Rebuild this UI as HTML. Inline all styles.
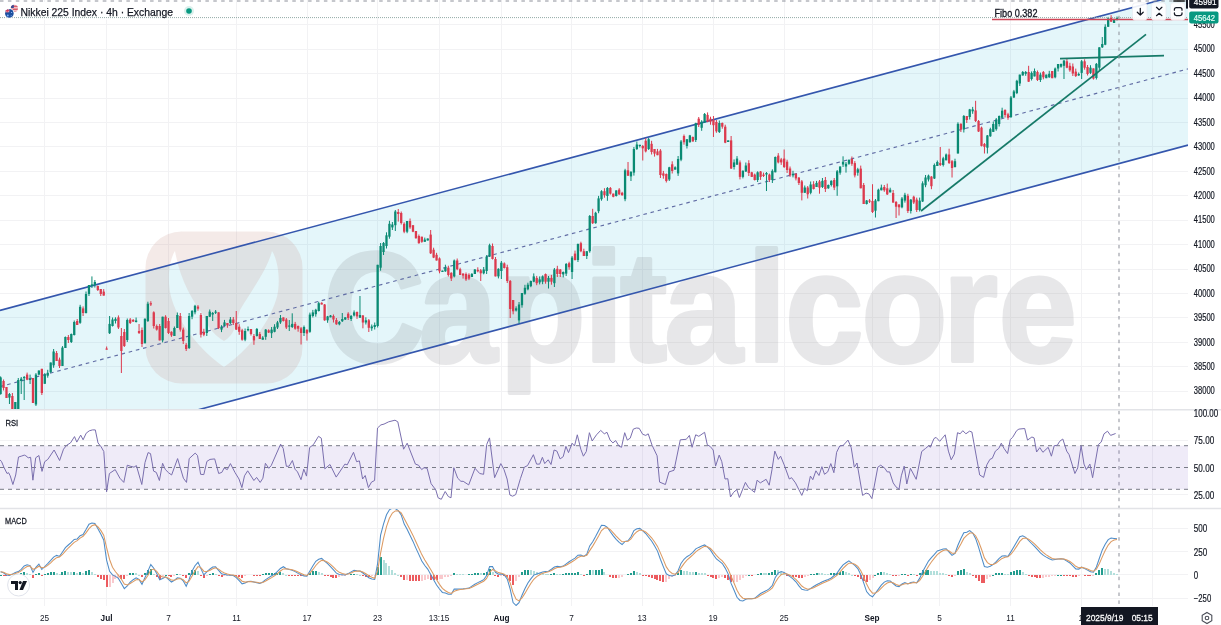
<!DOCTYPE html>
<html><head><meta charset="utf-8"><title>Nikkei 225 Index chart</title><style>html,body{margin:0;padding:0;background:#fff;width:1221px;height:625px;overflow:hidden}svg{display:block}</style></head><body>
<svg width="1221" height="625" viewBox="0 0 1221 625" font-family="Liberation Sans, Arial, sans-serif">
<defs><clipPath id="cm"><rect x="0" y="0" width="1188" height="409"/></clipPath><clipPath id="cr"><rect x="0" y="410" width="1188" height="98"/></clipPath><clipPath id="cd"><rect x="0" y="509" width="1188" height="97"/></clipPath></defs>
<rect width="1221" height="625" fill="#ffffff"/>
<g stroke="#f2f2f4" stroke-width="1" shape-rendering="crispEdges"><line x1="44.5" y1="0" x2="44.5" y2="606" /><line x1="106.5" y1="0" x2="106.5" y2="606" /><line x1="168.5" y1="0" x2="168.5" y2="606" /><line x1="236.5" y1="0" x2="236.5" y2="606" /><line x1="307" y1="0" x2="307" y2="606" /><line x1="377.5" y1="0" x2="377.5" y2="606" /><line x1="439" y1="0" x2="439" y2="606" /><line x1="501.5" y1="0" x2="501.5" y2="606" /><line x1="571.5" y1="0" x2="571.5" y2="606" /><line x1="642" y1="0" x2="642" y2="606" /><line x1="713" y1="0" x2="713" y2="606" /><line x1="784" y1="0" x2="784" y2="606" /><line x1="872" y1="0" x2="872" y2="606" /><line x1="939.5" y1="0" x2="939.5" y2="606" /><line x1="1010.5" y1="0" x2="1010.5" y2="606" /><line x1="1081" y1="0" x2="1081" y2="606" /><line x1="1152" y1="0" x2="1152" y2="606" /><line x1="0" y1="24.8" x2="1188" y2="24.8"/><line x1="0" y1="49.2" x2="1188" y2="49.2"/><line x1="0" y1="73.6" x2="1188" y2="73.6"/><line x1="0" y1="98.1" x2="1188" y2="98.1"/><line x1="0" y1="122.5" x2="1188" y2="122.5"/><line x1="0" y1="146.9" x2="1188" y2="146.9"/><line x1="0" y1="171.4" x2="1188" y2="171.4"/><line x1="0" y1="195.8" x2="1188" y2="195.8"/><line x1="0" y1="220.2" x2="1188" y2="220.2"/><line x1="0" y1="244.6" x2="1188" y2="244.6"/><line x1="0" y1="269.1" x2="1188" y2="269.1"/><line x1="0" y1="293.5" x2="1188" y2="293.5"/><line x1="0" y1="317.9" x2="1188" y2="317.9"/><line x1="0" y1="342.4" x2="1188" y2="342.4"/><line x1="0" y1="366.8" x2="1188" y2="366.8"/><line x1="0" y1="391.2" x2="1188" y2="391.2"/><line x1="0" y1="440.2" x2="1188" y2="440.2"/><line x1="0" y1="494.8" x2="1188" y2="494.8"/><line x1="0" y1="528.2" x2="1188" y2="528.2"/><line x1="0" y1="551.5" x2="1188" y2="551.5"/><line x1="0" y1="574.8" x2="1188" y2="574.8"/><line x1="0" y1="598.1" x2="1188" y2="598.1"/></g>
<g clip-path="url(#cm)">
<polygon points="0,310.4 1188,-7.3 1188,145.1 0,462.8" fill="#3ebcde" fill-opacity="0.14"/>
</g>
<path fill-rule="evenodd" fill="#c8948a" fill-opacity="0.2" d="M181.5,231.5 H266.5 A36,36 0 0 1 302.5,267.5 V347.5 A36,36 0 0 1 266.5,383.5 H181.5 A36,36 0 0 1 145.5,347.5 V267.5 A36,36 0 0 1 181.5,231.5 Z M175,251 C168,262 167,285 172,300 C180,325 200,350 224,367 C248,350 268,325 276,300 C281,285 279,262 272,251 C268,268 252,290 240,310 C236,322 236,334 224,341 C212,334 206,324 204,316 C192,300 180,280 175,251 Z"/>
<g opacity="0.17"><text transform="scale(0.9,1)" x="359.1 465.5 555.2 649.1 689.3 738.3 830.3 872.5 957.2 1047.7 1109.6" y="361" font-size="156" font-weight="bold" fill="#78787f" stroke="#78787f" stroke-width="4" stroke-linejoin="round">Capitalcore</text></g>
<g clip-path="url(#cm)">
<line x1="0" y1="310.4" x2="1188" y2="-7.3" stroke="#3456ad" stroke-width="1.6"/>
<line x1="0" y1="462.8" x2="1188" y2="145.1" stroke="#3456ad" stroke-width="1.6"/>
<line x1="0" y1="386.6" x2="1188" y2="68.9" stroke="#606ca4" stroke-width="1.15" stroke-dasharray="3.6 3.8"/>
</g>
<g clip-path="url(#cm)"><rect x="0.10" y="376.4" width="1" height="18.2" fill="#0a8a73"/>
<rect x="-0.55" y="377.4" width="2.3" height="16.7" fill="#0a8a73"/>
<rect x="3.05" y="379.5" width="1" height="11.0" fill="#dc3a4e"/>
<rect x="2.40" y="381.0" width="2.3" height="7.0" fill="#dc3a4e"/>
<rect x="5.99" y="387.0" width="1" height="11.0" fill="#dc3a4e"/>
<rect x="5.34" y="387.0" width="2.3" height="11.0" fill="#dc3a4e"/>
<rect x="8.94" y="393.0" width="1" height="11.0" fill="#0a8a73"/>
<rect x="8.29" y="394.0" width="2.3" height="3.6" fill="#0a8a73"/>
<rect x="11.88" y="393.0" width="1" height="18.0" fill="#dc3a4e"/>
<rect x="11.23" y="396.0" width="2.3" height="13.0" fill="#dc3a4e"/>
<rect x="14.83" y="402.0" width="1" height="8.0" fill="#0a8a73"/>
<rect x="14.18" y="402.0" width="2.3" height="7.0" fill="#0a8a73"/>
<rect x="17.77" y="378.0" width="1" height="31.0" fill="#0a8a73"/>
<rect x="17.12" y="380.0" width="2.3" height="29.0" fill="#0a8a73"/>
<rect x="20.72" y="377.0" width="1" height="17.0" fill="#0a8a73"/>
<rect x="20.07" y="378.6" width="2.3" height="2.4" fill="#0a8a73"/>
<rect x="23.67" y="376.0" width="1" height="24.0" fill="#0a8a73"/>
<rect x="23.02" y="377.0" width="2.3" height="1.2" fill="#0a8a73"/>
<rect x="26.61" y="372.6" width="1" height="7.6" fill="#dc3a4e"/>
<rect x="25.96" y="374.6" width="2.3" height="5.1" fill="#dc3a4e"/>
<rect x="29.56" y="374.6" width="1" height="9.4" fill="#0a8a73"/>
<rect x="28.91" y="378.6" width="2.3" height="1.4" fill="#0a8a73"/>
<rect x="32.50" y="378.0" width="1" height="25.0" fill="#dc3a4e"/>
<rect x="31.85" y="378.0" width="2.3" height="25.0" fill="#dc3a4e"/>
<rect x="35.45" y="373.1" width="1" height="32.9" fill="#0a8a73"/>
<rect x="34.80" y="374.6" width="2.3" height="29.9" fill="#0a8a73"/>
<rect x="38.39" y="370.5" width="1" height="4.6" fill="#0a8a73"/>
<rect x="37.74" y="370.5" width="2.3" height="4.1" fill="#0a8a73"/>
<rect x="41.34" y="368.8" width="1" height="26.2" fill="#dc3a4e"/>
<rect x="40.69" y="368.8" width="2.3" height="24.2" fill="#dc3a4e"/>
<rect x="44.28" y="373.1" width="1" height="10.7" fill="#0a8a73"/>
<rect x="43.63" y="374.6" width="2.3" height="9.2" fill="#0a8a73"/>
<rect x="47.23" y="369.8" width="1" height="7.9" fill="#0a8a73"/>
<rect x="46.58" y="372.8" width="2.3" height="2.9" fill="#0a8a73"/>
<rect x="50.18" y="362.5" width="1" height="10.3" fill="#0a8a73"/>
<rect x="49.53" y="362.5" width="2.3" height="9.8" fill="#0a8a73"/>
<rect x="53.12" y="349.0" width="1" height="18.8" fill="#0a8a73"/>
<rect x="52.47" y="351.5" width="2.3" height="13.8" fill="#0a8a73"/>
<rect x="56.07" y="351.0" width="1" height="10.0" fill="#dc3a4e"/>
<rect x="55.42" y="353.0" width="2.3" height="8.0" fill="#dc3a4e"/>
<rect x="59.01" y="357.6" width="1" height="10.4" fill="#dc3a4e"/>
<rect x="58.36" y="359.6" width="2.3" height="6.4" fill="#dc3a4e"/>
<rect x="61.96" y="346.1" width="1" height="19.9" fill="#0a8a73"/>
<rect x="61.31" y="347.6" width="2.3" height="18.4" fill="#0a8a73"/>
<rect x="64.90" y="336.5" width="1" height="11.5" fill="#0a8a73"/>
<rect x="64.25" y="337.0" width="2.3" height="11.0" fill="#0a8a73"/>
<rect x="67.85" y="335.0" width="1" height="8.0" fill="#dc3a4e"/>
<rect x="67.20" y="337.0" width="2.3" height="3.0" fill="#dc3a4e"/>
<rect x="70.80" y="333.5" width="1" height="9.5" fill="#0a8a73"/>
<rect x="70.15" y="334.0" width="2.3" height="8.0" fill="#0a8a73"/>
<rect x="73.74" y="320.5" width="1" height="15.0" fill="#0a8a73"/>
<rect x="73.09" y="322.0" width="2.3" height="13.0" fill="#0a8a73"/>
<rect x="76.69" y="319.0" width="1" height="6.0" fill="#dc3a4e"/>
<rect x="76.04" y="321.0" width="2.3" height="4.0" fill="#dc3a4e"/>
<rect x="79.63" y="304.8" width="1" height="19.0" fill="#0a8a73"/>
<rect x="78.98" y="306.8" width="2.3" height="16.0" fill="#0a8a73"/>
<rect x="82.58" y="306.4" width="1" height="9.6" fill="#dc3a4e"/>
<rect x="81.93" y="308.4" width="2.3" height="4.6" fill="#dc3a4e"/>
<rect x="85.52" y="291.5" width="1" height="22.0" fill="#0a8a73"/>
<rect x="84.87" y="294.0" width="2.3" height="19.0" fill="#0a8a73"/>
<rect x="88.47" y="285.0" width="1" height="11.0" fill="#0a8a73"/>
<rect x="87.82" y="285.0" width="2.3" height="9.0" fill="#0a8a73"/>
<rect x="91.42" y="276.4" width="1" height="11.6" fill="#0a8a73"/>
<rect x="90.77" y="284.4" width="2.3" height="1.6" fill="#0a8a73"/>
<rect x="94.36" y="280.0" width="1" height="7.5" fill="#0a8a73"/>
<rect x="93.71" y="282.0" width="2.3" height="3.0" fill="#0a8a73"/>
<rect x="97.31" y="285.5" width="1" height="5.5" fill="#dc3a4e"/>
<rect x="96.66" y="286.0" width="2.3" height="4.0" fill="#dc3a4e"/>
<rect x="100.25" y="289.0" width="1" height="7.0" fill="#dc3a4e"/>
<rect x="99.60" y="289.0" width="2.3" height="5.0" fill="#dc3a4e"/>
<rect x="103.20" y="289.1" width="1" height="6.5" fill="#dc3a4e"/>
<rect x="102.55" y="291.6" width="2.3" height="4.0" fill="#dc3a4e"/>
<rect x="106.14" y="346.5" width="1" height="3.0" fill="#dc3a4e"/>
<rect x="105.49" y="348.5" width="2.3" height="1.2" fill="#dc3a4e"/>
<rect x="109.09" y="316.0" width="1" height="18.0" fill="#0a8a73"/>
<rect x="108.44" y="323.9" width="2.3" height="9.3" fill="#0a8a73"/>
<rect x="112.03" y="317.5" width="1" height="9.0" fill="#0a8a73"/>
<rect x="111.38" y="319.5" width="2.3" height="6.5" fill="#0a8a73"/>
<rect x="114.98" y="317.3" width="1" height="6.2" fill="#0a8a73"/>
<rect x="114.33" y="318.8" width="2.3" height="2.2" fill="#0a8a73"/>
<rect x="117.93" y="315.4" width="1" height="13.6" fill="#dc3a4e"/>
<rect x="117.28" y="317.4" width="2.3" height="10.1" fill="#dc3a4e"/>
<rect x="120.87" y="328.0" width="1" height="45.0" fill="#dc3a4e"/>
<rect x="120.22" y="336.0" width="2.3" height="15.0" fill="#dc3a4e"/>
<rect x="123.82" y="329.0" width="1" height="18.0" fill="#dc3a4e"/>
<rect x="123.17" y="332.0" width="2.3" height="14.0" fill="#dc3a4e"/>
<rect x="126.76" y="318.5" width="1" height="23.5" fill="#0a8a73"/>
<rect x="126.11" y="320.0" width="2.3" height="20.0" fill="#0a8a73"/>
<rect x="129.71" y="318.0" width="1" height="6.0" fill="#dc3a4e"/>
<rect x="129.06" y="319.5" width="2.3" height="3.5" fill="#dc3a4e"/>
<rect x="132.65" y="319.0" width="1" height="3.0" fill="#dc3a4e"/>
<rect x="132.00" y="320.0" width="2.3" height="1.5" fill="#dc3a4e"/>
<rect x="135.60" y="317.5" width="1" height="5.0" fill="#0a8a73"/>
<rect x="134.95" y="320.5" width="2.3" height="1.5" fill="#0a8a73"/>
<rect x="138.55" y="324.0" width="1" height="10.0" fill="#dc3a4e"/>
<rect x="137.90" y="331.0" width="2.3" height="2.0" fill="#dc3a4e"/>
<rect x="141.49" y="327.5" width="1" height="19.5" fill="#dc3a4e"/>
<rect x="140.84" y="330.0" width="2.3" height="14.0" fill="#dc3a4e"/>
<rect x="144.44" y="318.3" width="1" height="25.0" fill="#0a8a73"/>
<rect x="143.79" y="318.8" width="2.3" height="24.5" fill="#0a8a73"/>
<rect x="147.38" y="301.7" width="1" height="20.3" fill="#0a8a73"/>
<rect x="146.73" y="303.7" width="2.3" height="17.3" fill="#0a8a73"/>
<rect x="150.33" y="301.2" width="1" height="4.8" fill="#dc3a4e"/>
<rect x="149.68" y="303.2" width="2.3" height="1.3" fill="#dc3a4e"/>
<rect x="153.27" y="311.3" width="1" height="17.2" fill="#dc3a4e"/>
<rect x="152.62" y="312.3" width="2.3" height="13.7" fill="#dc3a4e"/>
<rect x="156.22" y="324.5" width="1" height="6.1" fill="#dc3a4e"/>
<rect x="155.57" y="326.0" width="2.3" height="3.6" fill="#dc3a4e"/>
<rect x="159.16" y="324.0" width="1" height="16.4" fill="#dc3a4e"/>
<rect x="158.51" y="326.0" width="2.3" height="14.4" fill="#dc3a4e"/>
<rect x="162.11" y="316.7" width="1" height="25.7" fill="#0a8a73"/>
<rect x="161.46" y="316.7" width="2.3" height="23.7" fill="#0a8a73"/>
<rect x="165.06" y="315.2" width="1" height="13.3" fill="#dc3a4e"/>
<rect x="164.41" y="316.7" width="2.3" height="11.3" fill="#dc3a4e"/>
<rect x="168.00" y="318.0" width="1" height="16.0" fill="#dc3a4e"/>
<rect x="167.35" y="321.0" width="2.3" height="12.0" fill="#dc3a4e"/>
<rect x="170.95" y="331.3" width="1" height="5.6" fill="#dc3a4e"/>
<rect x="170.30" y="331.8" width="2.3" height="3.6" fill="#dc3a4e"/>
<rect x="173.89" y="326.5" width="1" height="9.5" fill="#0a8a73"/>
<rect x="173.24" y="328.0" width="2.3" height="8.0" fill="#0a8a73"/>
<rect x="176.84" y="312.5" width="1" height="15.5" fill="#0a8a73"/>
<rect x="176.19" y="315.0" width="2.3" height="13.0" fill="#0a8a73"/>
<rect x="179.78" y="313.0" width="1" height="18.6" fill="#dc3a4e"/>
<rect x="179.13" y="316.0" width="2.3" height="13.6" fill="#dc3a4e"/>
<rect x="182.73" y="327.6" width="1" height="16.4" fill="#dc3a4e"/>
<rect x="182.08" y="329.6" width="2.3" height="11.4" fill="#dc3a4e"/>
<rect x="185.68" y="343.0" width="1" height="8.0" fill="#dc3a4e"/>
<rect x="185.03" y="344.8" width="2.3" height="4.2" fill="#dc3a4e"/>
<rect x="188.62" y="313.0" width="1" height="36.0" fill="#0a8a73"/>
<rect x="187.97" y="316.0" width="2.3" height="32.0" fill="#0a8a73"/>
<rect x="191.57" y="310.0" width="1" height="9.2" fill="#0a8a73"/>
<rect x="190.92" y="311.0" width="2.3" height="5.7" fill="#0a8a73"/>
<rect x="194.51" y="304.8" width="1" height="9.5" fill="#0a8a73"/>
<rect x="193.86" y="305.8" width="2.3" height="6.5" fill="#0a8a73"/>
<rect x="197.46" y="305.1" width="1" height="5.6" fill="#dc3a4e"/>
<rect x="196.81" y="306.6" width="2.3" height="2.1" fill="#dc3a4e"/>
<rect x="200.40" y="313.0" width="1" height="24.5" fill="#dc3a4e"/>
<rect x="199.75" y="315.0" width="2.3" height="19.7" fill="#dc3a4e"/>
<rect x="203.35" y="328.8" width="1" height="7.4" fill="#dc3a4e"/>
<rect x="202.70" y="331.8" width="2.3" height="2.9" fill="#dc3a4e"/>
<rect x="206.30" y="316.0" width="1" height="20.0" fill="#0a8a73"/>
<rect x="205.65" y="316.0" width="2.3" height="17.0" fill="#0a8a73"/>
<rect x="209.24" y="309.5" width="1" height="7.5" fill="#0a8a73"/>
<rect x="208.59" y="311.6" width="2.3" height="5.1" fill="#0a8a73"/>
<rect x="212.19" y="312.0" width="1" height="9.0" fill="#0a8a73"/>
<rect x="211.54" y="313.0" width="2.3" height="1.5" fill="#0a8a73"/>
<rect x="215.13" y="310.0" width="1" height="4.0" fill="#0a8a73"/>
<rect x="214.48" y="311.6" width="2.3" height="1.2" fill="#0a8a73"/>
<rect x="218.08" y="312.3" width="1" height="16.7" fill="#dc3a4e"/>
<rect x="217.43" y="312.3" width="2.3" height="15.7" fill="#dc3a4e"/>
<rect x="221.02" y="325.2" width="1" height="6.9" fill="#0a8a73"/>
<rect x="220.37" y="326.7" width="2.3" height="2.9" fill="#0a8a73"/>
<rect x="223.97" y="319.9" width="1" height="6.1" fill="#0a8a73"/>
<rect x="223.32" y="322.4" width="2.3" height="3.6" fill="#0a8a73"/>
<rect x="226.91" y="323.0" width="1" height="4.8" fill="#dc3a4e"/>
<rect x="226.26" y="323.0" width="2.3" height="2.3" fill="#dc3a4e"/>
<rect x="229.86" y="317.0" width="1" height="7.0" fill="#0a8a73"/>
<rect x="229.21" y="319.5" width="2.3" height="3.5" fill="#0a8a73"/>
<rect x="232.81" y="317.0" width="1" height="8.0" fill="#dc3a4e"/>
<rect x="232.16" y="319.5" width="2.3" height="3.5" fill="#dc3a4e"/>
<rect x="235.75" y="311.0" width="1" height="19.0" fill="#dc3a4e"/>
<rect x="235.10" y="323.0" width="2.3" height="6.6" fill="#dc3a4e"/>
<rect x="238.70" y="324.2" width="1" height="10.6" fill="#dc3a4e"/>
<rect x="238.05" y="326.7" width="2.3" height="5.1" fill="#dc3a4e"/>
<rect x="241.64" y="328.8" width="1" height="11.9" fill="#dc3a4e"/>
<rect x="240.99" y="330.3" width="2.3" height="9.4" fill="#dc3a4e"/>
<rect x="244.59" y="328.5" width="1" height="12.7" fill="#0a8a73"/>
<rect x="243.94" y="331.0" width="2.3" height="8.7" fill="#0a8a73"/>
<rect x="247.53" y="326.5" width="1" height="4.8" fill="#0a8a73"/>
<rect x="246.88" y="329.0" width="2.3" height="1.3" fill="#0a8a73"/>
<rect x="250.48" y="329.0" width="1" height="6.5" fill="#dc3a4e"/>
<rect x="249.83" y="329.0" width="2.3" height="5.0" fill="#dc3a4e"/>
<rect x="253.43" y="334.0" width="1" height="10.8" fill="#dc3a4e"/>
<rect x="252.78" y="336.0" width="2.3" height="4.4" fill="#dc3a4e"/>
<rect x="256.37" y="328.0" width="1" height="8.5" fill="#0a8a73"/>
<rect x="255.72" y="329.0" width="2.3" height="7.0" fill="#0a8a73"/>
<rect x="259.32" y="332.0" width="1" height="7.0" fill="#dc3a4e"/>
<rect x="258.67" y="334.0" width="2.3" height="5.0" fill="#dc3a4e"/>
<rect x="262.26" y="336.1" width="1" height="3.6" fill="#0a8a73"/>
<rect x="261.61" y="337.6" width="2.3" height="2.1" fill="#0a8a73"/>
<rect x="265.21" y="329.1" width="1" height="10.7" fill="#0a8a73"/>
<rect x="264.56" y="329.6" width="2.3" height="7.2" fill="#0a8a73"/>
<rect x="268.15" y="329.3" width="1" height="3.7" fill="#dc3a4e"/>
<rect x="267.50" y="330.3" width="2.3" height="2.2" fill="#dc3a4e"/>
<rect x="271.10" y="327.0" width="1" height="11.0" fill="#0a8a73"/>
<rect x="270.45" y="329.6" width="2.3" height="3.6" fill="#0a8a73"/>
<rect x="274.05" y="324.2" width="1" height="8.1" fill="#0a8a73"/>
<rect x="273.40" y="326.7" width="2.3" height="5.1" fill="#0a8a73"/>
<rect x="276.99" y="320.9" width="1" height="8.1" fill="#0a8a73"/>
<rect x="276.34" y="322.4" width="2.3" height="5.1" fill="#0a8a73"/>
<rect x="279.94" y="315.0" width="1" height="8.9" fill="#0a8a73"/>
<rect x="279.29" y="318.0" width="2.3" height="4.4" fill="#0a8a73"/>
<rect x="282.88" y="317.4" width="1" height="4.1" fill="#dc3a4e"/>
<rect x="282.23" y="317.4" width="2.3" height="3.6" fill="#dc3a4e"/>
<rect x="285.83" y="318.0" width="1" height="11.0" fill="#dc3a4e"/>
<rect x="285.18" y="319.5" width="2.3" height="8.0" fill="#dc3a4e"/>
<rect x="288.77" y="320.0" width="1" height="11.0" fill="#0a8a73"/>
<rect x="288.12" y="325.5" width="2.3" height="1.2" fill="#0a8a73"/>
<rect x="291.72" y="313.3" width="1" height="14.7" fill="#0a8a73"/>
<rect x="291.07" y="323.9" width="2.3" height="3.1" fill="#0a8a73"/>
<rect x="294.66" y="321.9" width="1" height="7.8" fill="#dc3a4e"/>
<rect x="294.01" y="323.9" width="2.3" height="4.8" fill="#dc3a4e"/>
<rect x="297.61" y="325.5" width="1" height="6.2" fill="#dc3a4e"/>
<rect x="296.96" y="326.0" width="2.3" height="2.7" fill="#dc3a4e"/>
<rect x="300.56" y="327.0" width="1" height="17.5" fill="#dc3a4e"/>
<rect x="299.91" y="328.3" width="2.3" height="4.7" fill="#dc3a4e"/>
<rect x="303.50" y="325.5" width="1" height="10.5" fill="#0a8a73"/>
<rect x="302.85" y="327.0" width="2.3" height="6.0" fill="#0a8a73"/>
<rect x="306.45" y="329.0" width="1" height="11.6" fill="#dc3a4e"/>
<rect x="305.80" y="330.0" width="2.3" height="3.5" fill="#dc3a4e"/>
<rect x="309.39" y="312.6" width="1" height="20.2" fill="#0a8a73"/>
<rect x="308.74" y="314.6" width="2.3" height="17.2" fill="#0a8a73"/>
<rect x="312.34" y="309.9" width="1" height="7.6" fill="#0a8a73"/>
<rect x="311.69" y="312.4" width="2.3" height="3.6" fill="#0a8a73"/>
<rect x="315.28" y="308.8" width="1" height="7.9" fill="#0a8a73"/>
<rect x="314.63" y="309.8" width="2.3" height="4.4" fill="#0a8a73"/>
<rect x="318.23" y="301.7" width="1" height="9.8" fill="#0a8a73"/>
<rect x="317.58" y="303.2" width="2.3" height="7.8" fill="#0a8a73"/>
<rect x="321.18" y="302.3" width="1" height="2.2" fill="#dc3a4e"/>
<rect x="320.53" y="302.8" width="2.3" height="1.7" fill="#dc3a4e"/>
<rect x="324.12" y="304.0" width="1" height="16.8" fill="#dc3a4e"/>
<rect x="323.47" y="304.5" width="2.3" height="15.8" fill="#dc3a4e"/>
<rect x="327.07" y="315.9" width="1" height="6.9" fill="#0a8a73"/>
<rect x="326.42" y="316.4" width="2.3" height="3.9" fill="#0a8a73"/>
<rect x="330.01" y="315.0" width="1" height="2.3" fill="#0a8a73"/>
<rect x="329.36" y="315.5" width="2.3" height="1.8" fill="#0a8a73"/>
<rect x="332.96" y="314.5" width="1" height="8.0" fill="#dc3a4e"/>
<rect x="332.31" y="316.0" width="2.3" height="3.5" fill="#dc3a4e"/>
<rect x="335.90" y="318.0" width="1" height="6.8" fill="#dc3a4e"/>
<rect x="335.25" y="320.0" width="2.3" height="4.3" fill="#dc3a4e"/>
<rect x="338.85" y="321.0" width="1" height="4.3" fill="#0a8a73"/>
<rect x="338.20" y="322.0" width="2.3" height="2.3" fill="#0a8a73"/>
<rect x="341.79" y="313.0" width="1" height="9.0" fill="#0a8a73"/>
<rect x="341.14" y="319.0" width="2.3" height="2.2" fill="#0a8a73"/>
<rect x="344.74" y="317.3" width="1" height="2.7" fill="#0a8a73"/>
<rect x="344.09" y="317.3" width="2.3" height="2.2" fill="#0a8a73"/>
<rect x="347.69" y="312.2" width="1" height="7.8" fill="#dc3a4e"/>
<rect x="347.04" y="313.7" width="2.3" height="4.3" fill="#dc3a4e"/>
<rect x="350.63" y="315.0" width="1" height="6.0" fill="#0a8a73"/>
<rect x="349.98" y="316.0" width="2.3" height="3.0" fill="#0a8a73"/>
<rect x="353.58" y="310.4" width="1" height="6.1" fill="#0a8a73"/>
<rect x="352.93" y="312.4" width="2.3" height="3.1" fill="#0a8a73"/>
<rect x="356.52" y="311.5" width="1" height="7.4" fill="#dc3a4e"/>
<rect x="355.87" y="312.0" width="2.3" height="4.4" fill="#dc3a4e"/>
<rect x="359.47" y="296.0" width="1" height="22.0" fill="#0a8a73"/>
<rect x="358.82" y="315.0" width="2.3" height="2.7" fill="#0a8a73"/>
<rect x="362.41" y="315.0" width="1" height="13.3" fill="#dc3a4e"/>
<rect x="361.76" y="315.5" width="2.3" height="7.0" fill="#dc3a4e"/>
<rect x="365.36" y="317.3" width="1" height="7.2" fill="#0a8a73"/>
<rect x="364.71" y="320.3" width="2.3" height="2.2" fill="#0a8a73"/>
<rect x="368.31" y="319.0" width="1" height="13.0" fill="#dc3a4e"/>
<rect x="367.66" y="320.3" width="2.3" height="7.5" fill="#dc3a4e"/>
<rect x="371.25" y="324.5" width="1" height="6.3" fill="#0a8a73"/>
<rect x="370.60" y="326.5" width="2.3" height="1.8" fill="#0a8a73"/>
<rect x="374.20" y="322.5" width="1" height="7.0" fill="#0a8a73"/>
<rect x="373.55" y="325.0" width="2.3" height="2.0" fill="#0a8a73"/>
<rect x="377.14" y="264.8" width="1" height="62.7" fill="#0a8a73"/>
<rect x="376.49" y="264.8" width="2.3" height="61.2" fill="#0a8a73"/>
<rect x="380.09" y="243.0" width="1" height="27.7" fill="#0a8a73"/>
<rect x="379.44" y="246.0" width="2.3" height="21.7" fill="#0a8a73"/>
<rect x="383.03" y="242.0" width="1" height="13.0" fill="#0a8a73"/>
<rect x="382.38" y="243.0" width="2.3" height="9.0" fill="#0a8a73"/>
<rect x="385.98" y="232.3" width="1" height="16.2" fill="#0a8a73"/>
<rect x="385.33" y="235.3" width="2.3" height="10.7" fill="#0a8a73"/>
<rect x="388.93" y="220.8" width="1" height="17.9" fill="#0a8a73"/>
<rect x="388.28" y="223.8" width="2.3" height="12.9" fill="#0a8a73"/>
<rect x="391.87" y="222.0" width="1" height="8.0" fill="#0a8a73"/>
<rect x="391.22" y="224.5" width="2.3" height="2.9" fill="#0a8a73"/>
<rect x="394.82" y="210.0" width="1" height="21.0" fill="#0a8a73"/>
<rect x="394.17" y="211.5" width="2.3" height="13.7" fill="#0a8a73"/>
<rect x="397.76" y="209.0" width="1" height="12.6" fill="#dc3a4e"/>
<rect x="397.11" y="212.0" width="2.3" height="2.0" fill="#dc3a4e"/>
<rect x="400.71" y="211.5" width="1" height="13.0" fill="#dc3a4e"/>
<rect x="400.06" y="213.0" width="2.3" height="10.0" fill="#dc3a4e"/>
<rect x="403.65" y="222.3" width="1" height="10.9" fill="#dc3a4e"/>
<rect x="403.00" y="223.8" width="2.3" height="7.9" fill="#dc3a4e"/>
<rect x="406.60" y="221.0" width="1" height="12.2" fill="#0a8a73"/>
<rect x="405.95" y="221.0" width="2.3" height="10.7" fill="#0a8a73"/>
<rect x="409.54" y="218.5" width="1" height="10.4" fill="#dc3a4e"/>
<rect x="408.89" y="221.0" width="2.3" height="6.4" fill="#dc3a4e"/>
<rect x="412.49" y="225.2" width="1" height="7.0" fill="#dc3a4e"/>
<rect x="411.84" y="225.2" width="2.3" height="6.5" fill="#dc3a4e"/>
<rect x="415.44" y="231.0" width="1" height="7.7" fill="#dc3a4e"/>
<rect x="414.79" y="231.0" width="2.3" height="7.2" fill="#dc3a4e"/>
<rect x="418.38" y="234.5" width="1" height="9.2" fill="#dc3a4e"/>
<rect x="417.73" y="236.0" width="2.3" height="7.2" fill="#dc3a4e"/>
<rect x="421.33" y="236.7" width="1" height="6.1" fill="#dc3a4e"/>
<rect x="420.68" y="236.7" width="2.3" height="5.1" fill="#dc3a4e"/>
<rect x="424.27" y="237.6" width="1" height="4.2" fill="#0a8a73"/>
<rect x="423.62" y="239.6" width="2.3" height="2.2" fill="#0a8a73"/>
<rect x="427.22" y="238.5" width="1" height="2.0" fill="#0a8a73"/>
<rect x="426.57" y="238.5" width="2.3" height="2.0" fill="#0a8a73"/>
<rect x="430.16" y="230.0" width="1" height="24.0" fill="#dc3a4e"/>
<rect x="429.51" y="234.6" width="2.3" height="18.7" fill="#dc3a4e"/>
<rect x="433.11" y="247.7" width="1" height="10.4" fill="#dc3a4e"/>
<rect x="432.46" y="249.7" width="2.3" height="7.9" fill="#dc3a4e"/>
<rect x="436.06" y="252.8" width="1" height="7.7" fill="#dc3a4e"/>
<rect x="435.41" y="254.8" width="2.3" height="5.7" fill="#dc3a4e"/>
<rect x="439.00" y="257.4" width="1" height="15.9" fill="#dc3a4e"/>
<rect x="438.35" y="258.4" width="2.3" height="12.9" fill="#dc3a4e"/>
<rect x="441.95" y="270.6" width="1" height="1.4" fill="#0a8a73"/>
<rect x="441.30" y="270.6" width="2.3" height="1.4" fill="#0a8a73"/>
<rect x="444.89" y="264.7" width="1" height="7.1" fill="#0a8a73"/>
<rect x="444.24" y="267.7" width="2.3" height="3.6" fill="#0a8a73"/>
<rect x="447.84" y="265.7" width="1" height="10.8" fill="#dc3a4e"/>
<rect x="447.19" y="267.7" width="2.3" height="7.3" fill="#dc3a4e"/>
<rect x="450.78" y="272.3" width="1" height="8.7" fill="#dc3a4e"/>
<rect x="450.13" y="272.8" width="2.3" height="5.7" fill="#dc3a4e"/>
<rect x="453.73" y="259.5" width="1" height="17.9" fill="#0a8a73"/>
<rect x="453.08" y="260.5" width="2.3" height="15.9" fill="#0a8a73"/>
<rect x="456.68" y="258.5" width="1" height="11.7" fill="#dc3a4e"/>
<rect x="456.03" y="260.5" width="2.3" height="8.7" fill="#dc3a4e"/>
<rect x="459.62" y="267.7" width="1" height="7.3" fill="#dc3a4e"/>
<rect x="458.97" y="269.2" width="2.3" height="5.8" fill="#dc3a4e"/>
<rect x="462.57" y="273.5" width="1" height="5.1" fill="#dc3a4e"/>
<rect x="461.92" y="273.5" width="2.3" height="2.1" fill="#dc3a4e"/>
<rect x="465.51" y="272.5" width="1" height="8.4" fill="#dc3a4e"/>
<rect x="464.86" y="274.0" width="2.3" height="5.4" fill="#dc3a4e"/>
<rect x="468.46" y="273.3" width="1" height="6.8" fill="#dc3a4e"/>
<rect x="467.81" y="274.8" width="2.3" height="3.8" fill="#dc3a4e"/>
<rect x="471.40" y="273.0" width="1" height="4.0" fill="#0a8a73"/>
<rect x="470.75" y="274.0" width="2.3" height="3.0" fill="#0a8a73"/>
<rect x="474.35" y="269.0" width="1" height="5.0" fill="#0a8a73"/>
<rect x="473.70" y="269.5" width="2.3" height="4.5" fill="#0a8a73"/>
<rect x="477.29" y="267.3" width="1" height="5.0" fill="#dc3a4e"/>
<rect x="476.64" y="269.8" width="2.3" height="1.5" fill="#dc3a4e"/>
<rect x="480.24" y="269.0" width="1" height="12.0" fill="#dc3a4e"/>
<rect x="479.59" y="270.3" width="2.3" height="3.0" fill="#dc3a4e"/>
<rect x="483.19" y="267.0" width="1" height="7.3" fill="#0a8a73"/>
<rect x="482.54" y="269.5" width="2.3" height="3.8" fill="#0a8a73"/>
<rect x="486.13" y="255.1" width="1" height="18.9" fill="#0a8a73"/>
<rect x="485.48" y="256.6" width="2.3" height="14.4" fill="#0a8a73"/>
<rect x="489.08" y="243.7" width="1" height="13.3" fill="#0a8a73"/>
<rect x="488.43" y="245.2" width="2.3" height="11.4" fill="#0a8a73"/>
<rect x="492.02" y="243.5" width="1" height="16.0" fill="#dc3a4e"/>
<rect x="491.37" y="246.0" width="2.3" height="13.0" fill="#dc3a4e"/>
<rect x="494.97" y="257.0" width="1" height="19.4" fill="#dc3a4e"/>
<rect x="494.32" y="259.0" width="2.3" height="17.4" fill="#dc3a4e"/>
<rect x="497.91" y="268.3" width="1" height="10.1" fill="#0a8a73"/>
<rect x="497.26" y="268.8" width="2.3" height="7.6" fill="#0a8a73"/>
<rect x="500.86" y="261.0" width="1" height="18.0" fill="#0a8a73"/>
<rect x="500.21" y="262.7" width="2.3" height="8.3" fill="#0a8a73"/>
<rect x="503.81" y="262.4" width="1" height="6.1" fill="#dc3a4e"/>
<rect x="503.16" y="263.4" width="2.3" height="4.6" fill="#dc3a4e"/>
<rect x="506.75" y="264.7" width="1" height="18.3" fill="#dc3a4e"/>
<rect x="506.10" y="267.2" width="2.3" height="13.8" fill="#dc3a4e"/>
<rect x="509.70" y="280.0" width="1" height="38.0" fill="#dc3a4e"/>
<rect x="509.05" y="281.0" width="2.3" height="28.0" fill="#dc3a4e"/>
<rect x="512.64" y="300.0" width="1" height="14.3" fill="#dc3a4e"/>
<rect x="511.99" y="300.0" width="2.3" height="11.3" fill="#dc3a4e"/>
<rect x="515.59" y="306.3" width="1" height="5.2" fill="#0a8a73"/>
<rect x="514.94" y="308.3" width="2.3" height="2.2" fill="#0a8a73"/>
<rect x="518.53" y="302.0" width="1" height="21.4" fill="#0a8a73"/>
<rect x="517.88" y="304.5" width="2.3" height="15.9" fill="#0a8a73"/>
<rect x="521.48" y="293.0" width="1" height="14.7" fill="#0a8a73"/>
<rect x="520.83" y="293.0" width="2.3" height="12.2" fill="#0a8a73"/>
<rect x="524.43" y="284.8" width="1" height="10.0" fill="#0a8a73"/>
<rect x="523.78" y="287.8" width="2.3" height="6.0" fill="#0a8a73"/>
<rect x="527.37" y="282.7" width="1" height="7.6" fill="#0a8a73"/>
<rect x="526.72" y="284.7" width="2.3" height="4.6" fill="#0a8a73"/>
<rect x="530.32" y="280.5" width="1" height="6.7" fill="#0a8a73"/>
<rect x="529.67" y="281.0" width="2.3" height="5.2" fill="#0a8a73"/>
<rect x="533.26" y="273.4" width="1" height="8.8" fill="#0a8a73"/>
<rect x="532.61" y="276.4" width="2.3" height="5.3" fill="#0a8a73"/>
<rect x="536.21" y="275.9" width="1" height="9.3" fill="#dc3a4e"/>
<rect x="535.56" y="277.9" width="2.3" height="5.3" fill="#dc3a4e"/>
<rect x="539.15" y="276.4" width="1" height="8.0" fill="#0a8a73"/>
<rect x="538.50" y="279.4" width="2.3" height="3.0" fill="#0a8a73"/>
<rect x="542.10" y="275.4" width="1" height="8.8" fill="#0a8a73"/>
<rect x="541.45" y="276.4" width="2.3" height="5.3" fill="#0a8a73"/>
<rect x="545.04" y="273.5" width="1" height="10.2" fill="#dc3a4e"/>
<rect x="544.39" y="274.0" width="2.3" height="7.7" fill="#dc3a4e"/>
<rect x="547.99" y="276.0" width="1" height="12.5" fill="#0a8a73"/>
<rect x="547.34" y="277.9" width="2.3" height="3.8" fill="#0a8a73"/>
<rect x="550.94" y="274.9" width="1" height="9.8" fill="#dc3a4e"/>
<rect x="550.29" y="277.9" width="2.3" height="3.8" fill="#dc3a4e"/>
<rect x="553.88" y="268.0" width="1" height="19.0" fill="#0a8a73"/>
<rect x="553.23" y="269.5" width="2.3" height="13.7" fill="#0a8a73"/>
<rect x="556.83" y="265.8" width="1" height="11.2" fill="#dc3a4e"/>
<rect x="556.18" y="268.8" width="2.3" height="5.2" fill="#dc3a4e"/>
<rect x="559.77" y="269.0" width="1" height="8.0" fill="#dc3a4e"/>
<rect x="559.12" y="269.5" width="2.3" height="4.5" fill="#dc3a4e"/>
<rect x="562.72" y="271.5" width="1" height="5.9" fill="#0a8a73"/>
<rect x="562.07" y="272.0" width="2.3" height="2.4" fill="#0a8a73"/>
<rect x="565.66" y="263.0" width="1" height="13.0" fill="#0a8a73"/>
<rect x="565.01" y="264.0" width="2.3" height="9.6" fill="#0a8a73"/>
<rect x="568.61" y="261.7" width="1" height="8.0" fill="#dc3a4e"/>
<rect x="567.96" y="263.2" width="2.3" height="4.0" fill="#dc3a4e"/>
<rect x="571.56" y="256.0" width="1" height="23.0" fill="#0a8a73"/>
<rect x="570.91" y="257.6" width="2.3" height="14.4" fill="#0a8a73"/>
<rect x="574.50" y="250.6" width="1" height="9.9" fill="#dc3a4e"/>
<rect x="573.85" y="253.6" width="2.3" height="6.4" fill="#dc3a4e"/>
<rect x="577.45" y="243.5" width="1" height="18.5" fill="#0a8a73"/>
<rect x="576.80" y="244.0" width="2.3" height="16.0" fill="#0a8a73"/>
<rect x="580.39" y="241.7" width="1" height="10.5" fill="#dc3a4e"/>
<rect x="579.74" y="243.2" width="2.3" height="8.0" fill="#dc3a4e"/>
<rect x="583.34" y="248.7" width="1" height="7.3" fill="#dc3a4e"/>
<rect x="582.69" y="251.2" width="2.3" height="4.8" fill="#dc3a4e"/>
<rect x="586.28" y="251.2" width="1" height="7.8" fill="#0a8a73"/>
<rect x="585.63" y="251.2" width="2.3" height="4.8" fill="#0a8a73"/>
<rect x="589.23" y="215.0" width="1" height="37.7" fill="#0a8a73"/>
<rect x="588.58" y="216.0" width="2.3" height="35.2" fill="#0a8a73"/>
<rect x="592.17" y="208.8" width="1" height="15.2" fill="#dc3a4e"/>
<rect x="591.52" y="216.0" width="2.3" height="7.2" fill="#dc3a4e"/>
<rect x="595.12" y="211.8" width="1" height="11.9" fill="#0a8a73"/>
<rect x="594.47" y="212.8" width="2.3" height="10.4" fill="#0a8a73"/>
<rect x="598.07" y="195.9" width="1" height="17.3" fill="#0a8a73"/>
<rect x="597.42" y="198.4" width="2.3" height="12.8" fill="#0a8a73"/>
<rect x="601.01" y="190.2" width="1" height="10.5" fill="#0a8a73"/>
<rect x="600.36" y="191.2" width="2.3" height="8.0" fill="#0a8a73"/>
<rect x="603.96" y="188.2" width="1" height="9.5" fill="#dc3a4e"/>
<rect x="603.31" y="191.2" width="2.3" height="4.0" fill="#dc3a4e"/>
<rect x="606.90" y="187.0" width="1" height="13.8" fill="#0a8a73"/>
<rect x="606.25" y="188.0" width="2.3" height="8.0" fill="#0a8a73"/>
<rect x="609.85" y="187.0" width="1" height="7.6" fill="#dc3a4e"/>
<rect x="609.20" y="188.0" width="2.3" height="5.6" fill="#dc3a4e"/>
<rect x="612.79" y="193.6" width="1" height="3.7" fill="#dc3a4e"/>
<rect x="612.14" y="193.6" width="2.3" height="3.2" fill="#dc3a4e"/>
<rect x="615.74" y="190.4" width="1" height="6.1" fill="#0a8a73"/>
<rect x="615.09" y="190.4" width="2.3" height="5.6" fill="#0a8a73"/>
<rect x="618.69" y="188.1" width="1" height="6.8" fill="#dc3a4e"/>
<rect x="618.04" y="189.6" width="2.3" height="4.8" fill="#dc3a4e"/>
<rect x="621.63" y="191.8" width="1" height="3.9" fill="#dc3a4e"/>
<rect x="620.98" y="192.8" width="2.3" height="2.4" fill="#dc3a4e"/>
<rect x="624.58" y="168.8" width="1" height="32.4" fill="#0a8a73"/>
<rect x="623.93" y="170.3" width="2.3" height="28.9" fill="#0a8a73"/>
<rect x="627.52" y="162.0" width="1" height="14.0" fill="#dc3a4e"/>
<rect x="626.87" y="170.3" width="2.3" height="5.4" fill="#dc3a4e"/>
<rect x="630.47" y="171.0" width="1" height="10.0" fill="#0a8a73"/>
<rect x="629.82" y="172.0" width="2.3" height="4.4" fill="#0a8a73"/>
<rect x="633.41" y="147.0" width="1" height="28.6" fill="#0a8a73"/>
<rect x="632.76" y="149.0" width="2.3" height="23.6" fill="#0a8a73"/>
<rect x="636.36" y="141.5" width="1" height="8.5" fill="#0a8a73"/>
<rect x="635.71" y="144.5" width="2.3" height="4.5" fill="#0a8a73"/>
<rect x="639.31" y="144.8" width="1" height="2.7" fill="#0a8a73"/>
<rect x="638.66" y="144.8" width="2.3" height="1.2" fill="#0a8a73"/>
<rect x="642.25" y="145.0" width="1" height="15.5" fill="#dc3a4e"/>
<rect x="641.60" y="146.0" width="2.3" height="2.3" fill="#dc3a4e"/>
<rect x="645.20" y="138.2" width="1" height="14.2" fill="#dc3a4e"/>
<rect x="644.55" y="140.7" width="2.3" height="10.7" fill="#dc3a4e"/>
<rect x="648.14" y="138.0" width="1" height="12.0" fill="#0a8a73"/>
<rect x="647.49" y="139.2" width="2.3" height="9.8" fill="#0a8a73"/>
<rect x="651.09" y="140.8" width="1" height="13.7" fill="#dc3a4e"/>
<rect x="650.44" y="143.8" width="2.3" height="8.2" fill="#dc3a4e"/>
<rect x="654.03" y="149.0" width="1" height="7.6" fill="#dc3a4e"/>
<rect x="653.38" y="149.0" width="2.3" height="4.6" fill="#dc3a4e"/>
<rect x="656.98" y="148.9" width="1" height="6.3" fill="#dc3a4e"/>
<rect x="656.33" y="151.4" width="2.3" height="3.8" fill="#dc3a4e"/>
<rect x="659.92" y="149.1" width="1" height="28.9" fill="#dc3a4e"/>
<rect x="659.27" y="150.6" width="2.3" height="24.4" fill="#dc3a4e"/>
<rect x="662.87" y="170.9" width="1" height="7.8" fill="#dc3a4e"/>
<rect x="662.22" y="173.4" width="2.3" height="2.3" fill="#dc3a4e"/>
<rect x="665.82" y="173.5" width="1" height="9.0" fill="#dc3a4e"/>
<rect x="665.17" y="174.0" width="2.3" height="7.0" fill="#dc3a4e"/>
<rect x="668.76" y="166.8" width="1" height="14.2" fill="#0a8a73"/>
<rect x="668.11" y="167.3" width="2.3" height="12.2" fill="#0a8a73"/>
<rect x="671.71" y="161.3" width="1" height="12.2" fill="#dc3a4e"/>
<rect x="671.06" y="164.3" width="2.3" height="6.7" fill="#dc3a4e"/>
<rect x="674.65" y="166.3" width="1" height="3.3" fill="#0a8a73"/>
<rect x="674.00" y="167.3" width="2.3" height="2.3" fill="#0a8a73"/>
<rect x="677.60" y="156.0" width="1" height="19.9" fill="#0a8a73"/>
<rect x="676.95" y="159.0" width="2.3" height="14.4" fill="#0a8a73"/>
<rect x="680.54" y="140.0" width="1" height="21.2" fill="#0a8a73"/>
<rect x="679.89" y="141.5" width="2.3" height="18.2" fill="#0a8a73"/>
<rect x="683.49" y="134.5" width="1" height="10.2" fill="#dc3a4e"/>
<rect x="682.84" y="136.0" width="2.3" height="6.2" fill="#dc3a4e"/>
<rect x="686.44" y="139.2" width="1" height="9.3" fill="#0a8a73"/>
<rect x="685.79" y="139.2" width="2.3" height="6.8" fill="#0a8a73"/>
<rect x="689.38" y="134.9" width="1" height="7.8" fill="#0a8a73"/>
<rect x="688.73" y="135.4" width="2.3" height="6.8" fill="#0a8a73"/>
<rect x="692.33" y="136.5" width="1" height="5.0" fill="#dc3a4e"/>
<rect x="691.68" y="137.0" width="2.3" height="4.5" fill="#dc3a4e"/>
<rect x="695.27" y="122.7" width="1" height="19.3" fill="#0a8a73"/>
<rect x="694.62" y="123.2" width="2.3" height="16.8" fill="#0a8a73"/>
<rect x="698.22" y="117.0" width="1" height="10.0" fill="#dc3a4e"/>
<rect x="697.57" y="118.7" width="2.3" height="6.1" fill="#dc3a4e"/>
<rect x="701.16" y="120.2" width="1" height="10.6" fill="#0a8a73"/>
<rect x="700.51" y="121.7" width="2.3" height="6.1" fill="#0a8a73"/>
<rect x="704.11" y="113.0" width="1" height="10.0" fill="#0a8a73"/>
<rect x="703.46" y="114.0" width="2.3" height="8.5" fill="#0a8a73"/>
<rect x="707.06" y="112.4" width="1" height="9.8" fill="#dc3a4e"/>
<rect x="706.41" y="114.9" width="2.3" height="6.8" fill="#dc3a4e"/>
<rect x="710.00" y="116.7" width="1" height="8.0" fill="#dc3a4e"/>
<rect x="709.35" y="118.7" width="2.3" height="3.0" fill="#dc3a4e"/>
<rect x="712.95" y="116.0" width="1" height="21.0" fill="#dc3a4e"/>
<rect x="712.30" y="119.9" width="2.3" height="5.3" fill="#dc3a4e"/>
<rect x="715.89" y="120.0" width="1" height="12.8" fill="#dc3a4e"/>
<rect x="715.24" y="122.0" width="2.3" height="9.3" fill="#dc3a4e"/>
<rect x="718.84" y="120.5" width="1" height="12.5" fill="#0a8a73"/>
<rect x="718.19" y="123.0" width="2.3" height="9.0" fill="#0a8a73"/>
<rect x="721.78" y="122.5" width="1" height="6.2" fill="#dc3a4e"/>
<rect x="721.13" y="123.0" width="2.3" height="3.7" fill="#dc3a4e"/>
<rect x="724.73" y="124.7" width="1" height="18.5" fill="#dc3a4e"/>
<rect x="724.08" y="126.7" width="2.3" height="16.0" fill="#dc3a4e"/>
<rect x="727.67" y="140.4" width="1" height="1.6" fill="#0a8a73"/>
<rect x="727.02" y="140.4" width="2.3" height="1.6" fill="#0a8a73"/>
<rect x="730.62" y="136.0" width="1" height="33.0" fill="#dc3a4e"/>
<rect x="729.97" y="140.4" width="2.3" height="28.1" fill="#dc3a4e"/>
<rect x="733.57" y="159.4" width="1" height="10.1" fill="#0a8a73"/>
<rect x="732.92" y="162.4" width="2.3" height="4.6" fill="#0a8a73"/>
<rect x="736.51" y="156.1" width="1" height="8.6" fill="#0a8a73"/>
<rect x="735.86" y="158.6" width="2.3" height="6.1" fill="#0a8a73"/>
<rect x="739.46" y="160.4" width="1" height="19.0" fill="#dc3a4e"/>
<rect x="738.81" y="162.4" width="2.3" height="14.5" fill="#dc3a4e"/>
<rect x="742.40" y="170.3" width="1" height="8.1" fill="#0a8a73"/>
<rect x="741.75" y="170.8" width="2.3" height="6.1" fill="#0a8a73"/>
<rect x="745.35" y="162.5" width="1" height="9.5" fill="#0a8a73"/>
<rect x="744.70" y="165.5" width="2.3" height="6.0" fill="#0a8a73"/>
<rect x="748.29" y="160.2" width="1" height="15.8" fill="#dc3a4e"/>
<rect x="747.64" y="163.2" width="2.3" height="9.8" fill="#dc3a4e"/>
<rect x="751.24" y="171.8" width="1" height="5.1" fill="#dc3a4e"/>
<rect x="750.59" y="172.3" width="2.3" height="4.6" fill="#dc3a4e"/>
<rect x="754.19" y="173.6" width="1" height="6.9" fill="#dc3a4e"/>
<rect x="753.54" y="174.6" width="2.3" height="5.4" fill="#dc3a4e"/>
<rect x="757.13" y="171.3" width="1" height="10.7" fill="#0a8a73"/>
<rect x="756.48" y="172.3" width="2.3" height="7.7" fill="#0a8a73"/>
<rect x="760.08" y="171.0" width="1" height="8.9" fill="#dc3a4e"/>
<rect x="759.43" y="171.5" width="2.3" height="5.4" fill="#dc3a4e"/>
<rect x="763.02" y="172.6" width="1" height="4.4" fill="#dc3a4e"/>
<rect x="762.37" y="174.6" width="2.3" height="1.4" fill="#dc3a4e"/>
<rect x="765.97" y="172.0" width="1" height="19.0" fill="#0a8a73"/>
<rect x="765.32" y="173.0" width="2.3" height="1.5" fill="#0a8a73"/>
<rect x="768.91" y="173.6" width="1" height="8.4" fill="#dc3a4e"/>
<rect x="768.26" y="174.6" width="2.3" height="5.4" fill="#dc3a4e"/>
<rect x="771.86" y="169.3" width="1" height="13.7" fill="#0a8a73"/>
<rect x="771.21" y="170.8" width="2.3" height="9.2" fill="#0a8a73"/>
<rect x="774.81" y="156.5" width="1" height="15.8" fill="#0a8a73"/>
<rect x="774.16" y="157.0" width="2.3" height="15.3" fill="#0a8a73"/>
<rect x="777.75" y="153.1" width="1" height="10.3" fill="#dc3a4e"/>
<rect x="777.10" y="155.6" width="2.3" height="6.8" fill="#dc3a4e"/>
<rect x="780.70" y="157.9" width="1" height="7.0" fill="#dc3a4e"/>
<rect x="780.05" y="159.4" width="2.3" height="3.0" fill="#dc3a4e"/>
<rect x="783.64" y="149.5" width="1" height="18.5" fill="#dc3a4e"/>
<rect x="782.99" y="158.6" width="2.3" height="8.4" fill="#dc3a4e"/>
<rect x="786.59" y="159.7" width="1" height="13.3" fill="#dc3a4e"/>
<rect x="785.94" y="161.7" width="2.3" height="8.3" fill="#dc3a4e"/>
<rect x="789.53" y="166.5" width="1" height="10.4" fill="#dc3a4e"/>
<rect x="788.88" y="168.5" width="2.3" height="6.9" fill="#dc3a4e"/>
<rect x="792.48" y="170.8" width="1" height="6.6" fill="#0a8a73"/>
<rect x="791.83" y="173.8" width="2.3" height="1.6" fill="#0a8a73"/>
<rect x="795.42" y="173.3" width="1" height="7.1" fill="#dc3a4e"/>
<rect x="794.77" y="173.8" width="2.3" height="4.6" fill="#dc3a4e"/>
<rect x="798.37" y="177.1" width="1" height="7.9" fill="#dc3a4e"/>
<rect x="797.72" y="177.6" width="2.3" height="5.4" fill="#dc3a4e"/>
<rect x="801.32" y="180.0" width="1" height="20.4" fill="#dc3a4e"/>
<rect x="800.67" y="181.4" width="2.3" height="11.4" fill="#dc3a4e"/>
<rect x="804.26" y="185.5" width="1" height="7.3" fill="#0a8a73"/>
<rect x="803.61" y="187.5" width="2.3" height="5.3" fill="#0a8a73"/>
<rect x="807.21" y="186.0" width="1" height="12.5" fill="#dc3a4e"/>
<rect x="806.56" y="187.5" width="2.3" height="6.8" fill="#dc3a4e"/>
<rect x="810.15" y="181.5" width="1" height="12.8" fill="#0a8a73"/>
<rect x="809.50" y="184.5" width="2.3" height="8.3" fill="#0a8a73"/>
<rect x="813.10" y="181.2" width="1" height="8.3" fill="#dc3a4e"/>
<rect x="812.45" y="184.2" width="2.3" height="4.8" fill="#dc3a4e"/>
<rect x="816.04" y="180.9" width="1" height="6.1" fill="#0a8a73"/>
<rect x="815.39" y="182.9" width="2.3" height="4.1" fill="#0a8a73"/>
<rect x="818.99" y="180.0" width="1" height="13.7" fill="#dc3a4e"/>
<rect x="818.34" y="181.5" width="2.3" height="6.1" fill="#dc3a4e"/>
<rect x="821.94" y="178.0" width="1" height="10.0" fill="#0a8a73"/>
<rect x="821.29" y="180.8" width="2.3" height="6.2" fill="#0a8a73"/>
<rect x="824.88" y="177.0" width="1" height="15.0" fill="#dc3a4e"/>
<rect x="824.23" y="180.0" width="2.3" height="9.0" fill="#dc3a4e"/>
<rect x="827.83" y="184.5" width="1" height="4.3" fill="#0a8a73"/>
<rect x="827.18" y="185.0" width="2.3" height="3.3" fill="#0a8a73"/>
<rect x="830.77" y="180.3" width="1" height="6.2" fill="#0a8a73"/>
<rect x="830.12" y="180.8" width="2.3" height="4.2" fill="#0a8a73"/>
<rect x="833.72" y="178.0" width="1" height="12.1" fill="#dc3a4e"/>
<rect x="833.07" y="180.0" width="2.3" height="7.6" fill="#dc3a4e"/>
<rect x="836.66" y="170.0" width="1" height="25.8" fill="#0a8a73"/>
<rect x="836.01" y="171.3" width="2.3" height="15.0" fill="#0a8a73"/>
<rect x="839.61" y="166.5" width="1" height="8.2" fill="#0a8a73"/>
<rect x="838.96" y="166.5" width="2.3" height="6.2" fill="#0a8a73"/>
<rect x="842.55" y="156.3" width="1" height="10.7" fill="#0a8a73"/>
<rect x="841.90" y="161.8" width="2.3" height="2.7" fill="#0a8a73"/>
<rect x="845.50" y="162.0" width="1" height="10.6" fill="#0a8a73"/>
<rect x="844.85" y="163.8" width="2.3" height="2.7" fill="#0a8a73"/>
<rect x="848.45" y="159.7" width="1" height="5.1" fill="#0a8a73"/>
<rect x="847.80" y="159.7" width="2.3" height="4.1" fill="#0a8a73"/>
<rect x="851.39" y="156.5" width="1" height="9.3" fill="#dc3a4e"/>
<rect x="850.74" y="159.0" width="2.3" height="4.8" fill="#dc3a4e"/>
<rect x="854.34" y="161.1" width="1" height="16.3" fill="#dc3a4e"/>
<rect x="853.69" y="163.1" width="2.3" height="12.3" fill="#dc3a4e"/>
<rect x="857.28" y="167.8" width="1" height="7.9" fill="#0a8a73"/>
<rect x="856.63" y="169.3" width="2.3" height="3.4" fill="#0a8a73"/>
<rect x="860.23" y="165.6" width="1" height="22.7" fill="#dc3a4e"/>
<rect x="859.58" y="168.6" width="2.3" height="19.7" fill="#dc3a4e"/>
<rect x="863.17" y="183.0" width="1" height="21.0" fill="#dc3a4e"/>
<rect x="862.52" y="185.0" width="2.3" height="19.0" fill="#dc3a4e"/>
<rect x="866.12" y="200.0" width="1" height="4.5" fill="#0a8a73"/>
<rect x="865.47" y="200.5" width="2.3" height="3.5" fill="#0a8a73"/>
<rect x="869.07" y="199.0" width="1" height="4.0" fill="#dc3a4e"/>
<rect x="868.42" y="200.5" width="2.3" height="1.2" fill="#dc3a4e"/>
<rect x="872.01" y="184.2" width="1" height="28.8" fill="#dc3a4e"/>
<rect x="871.36" y="201.0" width="2.3" height="11.0" fill="#dc3a4e"/>
<rect x="874.96" y="199.0" width="1" height="18.5" fill="#0a8a73"/>
<rect x="874.31" y="200.5" width="2.3" height="10.2" fill="#0a8a73"/>
<rect x="877.90" y="188.7" width="1" height="12.5" fill="#0a8a73"/>
<rect x="877.25" y="189.7" width="2.3" height="11.5" fill="#0a8a73"/>
<rect x="880.85" y="184.6" width="1" height="5.7" fill="#0a8a73"/>
<rect x="880.20" y="187.6" width="2.3" height="2.7" fill="#0a8a73"/>
<rect x="883.79" y="185.0" width="1" height="6.8" fill="#dc3a4e"/>
<rect x="883.14" y="187.0" width="2.3" height="3.3" fill="#dc3a4e"/>
<rect x="886.74" y="183.6" width="1" height="11.4" fill="#dc3a4e"/>
<rect x="886.09" y="188.3" width="2.3" height="6.1" fill="#dc3a4e"/>
<rect x="889.69" y="187.7" width="1" height="4.7" fill="#0a8a73"/>
<rect x="889.04" y="189.7" width="2.3" height="2.7" fill="#0a8a73"/>
<rect x="892.63" y="190.0" width="1" height="12.6" fill="#dc3a4e"/>
<rect x="891.98" y="193.0" width="2.3" height="9.6" fill="#dc3a4e"/>
<rect x="895.58" y="201.0" width="1" height="17.0" fill="#dc3a4e"/>
<rect x="894.93" y="202.0" width="2.3" height="4.7" fill="#dc3a4e"/>
<rect x="898.52" y="204.0" width="1" height="11.5" fill="#dc3a4e"/>
<rect x="897.87" y="204.6" width="2.3" height="2.7" fill="#dc3a4e"/>
<rect x="901.47" y="197.0" width="1" height="11.3" fill="#0a8a73"/>
<rect x="900.82" y="198.5" width="2.3" height="8.8" fill="#0a8a73"/>
<rect x="904.41" y="192.8" width="1" height="9.8" fill="#0a8a73"/>
<rect x="903.76" y="194.8" width="2.3" height="5.8" fill="#0a8a73"/>
<rect x="907.36" y="193.8" width="1" height="19.2" fill="#dc3a4e"/>
<rect x="906.71" y="195.8" width="2.3" height="15.2" fill="#dc3a4e"/>
<rect x="910.30" y="199.1" width="1" height="14.4" fill="#0a8a73"/>
<rect x="909.65" y="199.6" width="2.3" height="11.4" fill="#0a8a73"/>
<rect x="913.25" y="195.7" width="1" height="8.3" fill="#dc3a4e"/>
<rect x="912.60" y="196.7" width="2.3" height="5.8" fill="#dc3a4e"/>
<rect x="916.20" y="197.6" width="1" height="14.4" fill="#dc3a4e"/>
<rect x="915.55" y="199.6" width="2.3" height="10.4" fill="#dc3a4e"/>
<rect x="919.14" y="197.6" width="1" height="13.9" fill="#0a8a73"/>
<rect x="918.49" y="200.6" width="2.3" height="9.4" fill="#0a8a73"/>
<rect x="922.09" y="181.3" width="1" height="20.7" fill="#0a8a73"/>
<rect x="921.44" y="183.3" width="2.3" height="18.2" fill="#0a8a73"/>
<rect x="925.03" y="175.0" width="1" height="12.2" fill="#0a8a73"/>
<rect x="924.38" y="177.5" width="2.3" height="7.7" fill="#0a8a73"/>
<rect x="927.98" y="174.6" width="1" height="6.9" fill="#0a8a73"/>
<rect x="927.33" y="175.6" width="2.3" height="3.9" fill="#0a8a73"/>
<rect x="930.92" y="176.1" width="1" height="13.1" fill="#dc3a4e"/>
<rect x="930.27" y="176.6" width="2.3" height="9.6" fill="#dc3a4e"/>
<rect x="933.87" y="163.5" width="1" height="15.5" fill="#0a8a73"/>
<rect x="933.22" y="165.0" width="2.3" height="13.5" fill="#0a8a73"/>
<rect x="936.82" y="160.5" width="1" height="5.5" fill="#0a8a73"/>
<rect x="936.17" y="162.0" width="2.3" height="4.0" fill="#0a8a73"/>
<rect x="939.76" y="147.0" width="1" height="19.0" fill="#dc3a4e"/>
<rect x="939.11" y="163.0" width="2.3" height="2.0" fill="#dc3a4e"/>
<rect x="942.71" y="156.8" width="1" height="9.7" fill="#0a8a73"/>
<rect x="942.06" y="158.3" width="2.3" height="6.7" fill="#0a8a73"/>
<rect x="945.65" y="153.5" width="1" height="6.8" fill="#0a8a73"/>
<rect x="945.00" y="154.5" width="2.3" height="5.8" fill="#0a8a73"/>
<rect x="948.60" y="148.7" width="1" height="15.3" fill="#dc3a4e"/>
<rect x="947.95" y="154.5" width="2.3" height="8.5" fill="#dc3a4e"/>
<rect x="951.54" y="160.0" width="1" height="17.5" fill="#dc3a4e"/>
<rect x="950.89" y="161.2" width="2.3" height="6.8" fill="#dc3a4e"/>
<rect x="954.49" y="158.7" width="1" height="8.8" fill="#0a8a73"/>
<rect x="953.84" y="161.2" width="2.3" height="5.8" fill="#0a8a73"/>
<rect x="957.44" y="122.3" width="1" height="31.2" fill="#0a8a73"/>
<rect x="956.79" y="123.8" width="2.3" height="29.7" fill="#0a8a73"/>
<rect x="960.38" y="123.3" width="1" height="8.7" fill="#dc3a4e"/>
<rect x="959.73" y="123.8" width="2.3" height="5.7" fill="#dc3a4e"/>
<rect x="963.33" y="115.0" width="1" height="17.5" fill="#0a8a73"/>
<rect x="962.68" y="116.0" width="2.3" height="13.5" fill="#0a8a73"/>
<rect x="966.27" y="116.0" width="1" height="7.0" fill="#dc3a4e"/>
<rect x="965.62" y="116.0" width="2.3" height="4.0" fill="#dc3a4e"/>
<rect x="969.22" y="108.9" width="1" height="10.6" fill="#0a8a73"/>
<rect x="968.57" y="109.4" width="2.3" height="7.6" fill="#0a8a73"/>
<rect x="972.16" y="106.9" width="1" height="6.9" fill="#0a8a73"/>
<rect x="971.51" y="109.4" width="2.3" height="1.9" fill="#0a8a73"/>
<rect x="975.11" y="100.8" width="1" height="21.2" fill="#dc3a4e"/>
<rect x="974.46" y="110.4" width="2.3" height="10.6" fill="#dc3a4e"/>
<rect x="978.05" y="120.0" width="1" height="12.0" fill="#dc3a4e"/>
<rect x="977.40" y="121.0" width="2.3" height="10.5" fill="#dc3a4e"/>
<rect x="981.00" y="126.6" width="1" height="19.8" fill="#dc3a4e"/>
<rect x="980.35" y="127.6" width="2.3" height="18.3" fill="#dc3a4e"/>
<rect x="983.95" y="143.0" width="1" height="10.5" fill="#dc3a4e"/>
<rect x="983.30" y="144.0" width="2.3" height="2.8" fill="#dc3a4e"/>
<rect x="986.89" y="135.0" width="1" height="18.5" fill="#0a8a73"/>
<rect x="986.24" y="135.4" width="2.3" height="12.3" fill="#0a8a73"/>
<rect x="989.84" y="127.7" width="1" height="9.1" fill="#0a8a73"/>
<rect x="989.19" y="129.2" width="2.3" height="7.1" fill="#0a8a73"/>
<rect x="992.78" y="121.5" width="1" height="10.4" fill="#0a8a73"/>
<rect x="992.13" y="124.0" width="2.3" height="7.9" fill="#0a8a73"/>
<rect x="995.73" y="118.0" width="1" height="12.7" fill="#0a8a73"/>
<rect x="995.08" y="119.5" width="2.3" height="9.7" fill="#0a8a73"/>
<rect x="998.67" y="115.5" width="1" height="11.0" fill="#0a8a73"/>
<rect x="998.02" y="116.0" width="2.3" height="8.0" fill="#0a8a73"/>
<rect x="1001.62" y="107.7" width="1" height="10.6" fill="#0a8a73"/>
<rect x="1000.97" y="110.7" width="2.3" height="7.1" fill="#0a8a73"/>
<rect x="1004.57" y="109.4" width="1" height="8.1" fill="#dc3a4e"/>
<rect x="1003.92" y="109.9" width="2.3" height="5.1" fill="#dc3a4e"/>
<rect x="1007.51" y="112.8" width="1" height="7.0" fill="#dc3a4e"/>
<rect x="1006.86" y="114.3" width="2.3" height="3.5" fill="#dc3a4e"/>
<rect x="1010.46" y="96.0" width="1" height="22.0" fill="#0a8a73"/>
<rect x="1009.81" y="97.5" width="2.3" height="19.5" fill="#0a8a73"/>
<rect x="1013.40" y="89.9" width="1" height="8.1" fill="#0a8a73"/>
<rect x="1012.75" y="91.4" width="2.3" height="6.1" fill="#0a8a73"/>
<rect x="1016.35" y="79.8" width="1" height="14.3" fill="#0a8a73"/>
<rect x="1015.70" y="80.8" width="2.3" height="12.3" fill="#0a8a73"/>
<rect x="1019.29" y="74.6" width="1" height="11.4" fill="#0a8a73"/>
<rect x="1018.64" y="74.6" width="2.3" height="8.9" fill="#0a8a73"/>
<rect x="1022.24" y="71.0" width="1" height="4.5" fill="#0a8a73"/>
<rect x="1021.59" y="72.0" width="2.3" height="3.5" fill="#0a8a73"/>
<rect x="1025.18" y="71.0" width="1" height="4.8" fill="#0a8a73"/>
<rect x="1024.53" y="72.0" width="2.3" height="1.8" fill="#0a8a73"/>
<rect x="1028.13" y="65.8" width="1" height="16.2" fill="#dc3a4e"/>
<rect x="1027.48" y="72.0" width="2.3" height="9.7" fill="#dc3a4e"/>
<rect x="1031.08" y="71.4" width="1" height="9.1" fill="#0a8a73"/>
<rect x="1030.43" y="72.9" width="2.3" height="6.1" fill="#0a8a73"/>
<rect x="1034.02" y="68.5" width="1" height="7.9" fill="#0a8a73"/>
<rect x="1033.37" y="71.0" width="2.3" height="5.4" fill="#0a8a73"/>
<rect x="1036.97" y="70.5" width="1" height="10.5" fill="#dc3a4e"/>
<rect x="1036.32" y="72.0" width="2.3" height="8.0" fill="#dc3a4e"/>
<rect x="1039.91" y="72.6" width="1" height="9.4" fill="#0a8a73"/>
<rect x="1039.26" y="74.6" width="2.3" height="5.4" fill="#0a8a73"/>
<rect x="1042.86" y="71.0" width="1" height="8.3" fill="#dc3a4e"/>
<rect x="1042.21" y="72.0" width="2.3" height="5.3" fill="#dc3a4e"/>
<rect x="1045.80" y="74.6" width="1" height="3.6" fill="#0a8a73"/>
<rect x="1045.15" y="74.6" width="2.3" height="3.6" fill="#0a8a73"/>
<rect x="1048.75" y="70.8" width="1" height="7.0" fill="#0a8a73"/>
<rect x="1048.10" y="73.8" width="2.3" height="3.5" fill="#0a8a73"/>
<rect x="1051.70" y="71.0" width="1" height="7.2" fill="#dc3a4e"/>
<rect x="1051.05" y="71.0" width="2.3" height="7.2" fill="#dc3a4e"/>
<rect x="1054.64" y="67.5" width="1" height="10.8" fill="#0a8a73"/>
<rect x="1053.99" y="68.5" width="2.3" height="8.8" fill="#0a8a73"/>
<rect x="1057.59" y="64.0" width="1" height="7.5" fill="#0a8a73"/>
<rect x="1056.94" y="64.0" width="2.3" height="4.5" fill="#0a8a73"/>
<rect x="1060.53" y="63.5" width="1" height="4.2" fill="#0a8a73"/>
<rect x="1059.88" y="64.0" width="2.3" height="2.7" fill="#0a8a73"/>
<rect x="1063.48" y="60.0" width="1" height="19.0" fill="#0a8a73"/>
<rect x="1062.83" y="60.6" width="2.3" height="5.2" fill="#0a8a73"/>
<rect x="1066.42" y="58.3" width="1" height="9.9" fill="#dc3a4e"/>
<rect x="1065.77" y="61.3" width="2.3" height="6.4" fill="#dc3a4e"/>
<rect x="1069.37" y="62.8" width="1" height="9.0" fill="#dc3a4e"/>
<rect x="1068.72" y="65.8" width="2.3" height="4.5" fill="#dc3a4e"/>
<rect x="1072.32" y="63.5" width="1" height="12.5" fill="#dc3a4e"/>
<rect x="1071.67" y="66.5" width="2.3" height="7.0" fill="#dc3a4e"/>
<rect x="1075.26" y="68.6" width="1" height="8.4" fill="#dc3a4e"/>
<rect x="1074.61" y="71.6" width="2.3" height="4.4" fill="#dc3a4e"/>
<rect x="1078.21" y="72.5" width="1" height="3.4" fill="#0a8a73"/>
<rect x="1077.56" y="74.0" width="2.3" height="1.4" fill="#0a8a73"/>
<rect x="1081.15" y="60.0" width="1" height="19.0" fill="#0a8a73"/>
<rect x="1080.50" y="61.3" width="2.3" height="11.6" fill="#0a8a73"/>
<rect x="1084.10" y="59.3" width="1" height="10.4" fill="#dc3a4e"/>
<rect x="1083.45" y="61.3" width="2.3" height="6.4" fill="#dc3a4e"/>
<rect x="1087.04" y="65.0" width="1" height="10.5" fill="#dc3a4e"/>
<rect x="1086.39" y="67.0" width="2.3" height="7.0" fill="#dc3a4e"/>
<rect x="1089.99" y="65.2" width="1" height="8.7" fill="#0a8a73"/>
<rect x="1089.34" y="67.7" width="2.3" height="5.2" fill="#0a8a73"/>
<rect x="1092.93" y="68.4" width="1" height="11.2" fill="#dc3a4e"/>
<rect x="1092.28" y="68.4" width="2.3" height="10.2" fill="#dc3a4e"/>
<rect x="1095.88" y="63.0" width="1" height="16.5" fill="#0a8a73"/>
<rect x="1095.23" y="63.9" width="2.3" height="14.1" fill="#0a8a73"/>
<rect x="1098.83" y="47.3" width="1" height="23.4" fill="#0a8a73"/>
<rect x="1098.18" y="47.3" width="2.3" height="20.4" fill="#0a8a73"/>
<rect x="1101.77" y="37.0" width="1" height="11.0" fill="#0a8a73"/>
<rect x="1101.12" y="44.0" width="2.3" height="3.3" fill="#0a8a73"/>
<rect x="1104.72" y="24.3" width="1" height="20.9" fill="#0a8a73"/>
<rect x="1104.07" y="26.8" width="2.3" height="17.9" fill="#0a8a73"/>
<rect x="1107.66" y="16.9" width="1" height="9.9" fill="#0a8a73"/>
<rect x="1107.01" y="18.4" width="2.3" height="8.4" fill="#0a8a73"/>
<rect x="1110.61" y="15.2" width="1" height="6.8" fill="#dc3a4e"/>
<rect x="1109.96" y="17.8" width="2.3" height="3.8" fill="#dc3a4e"/>
<rect x="1113.55" y="18.7" width="1" height="4.3" fill="#0a8a73"/>
<rect x="1112.90" y="19.7" width="2.3" height="3.3" fill="#0a8a73"/>
<rect x="1116.50" y="16.5" width="1" height="4.0" fill="#0a8a73"/>
<rect x="1115.85" y="17.8" width="2.3" height="1.9" fill="#0a8a73"/></g>
<line x1="921" y1="211" x2="1146" y2="34.3" stroke="#167a68" stroke-width="1.7"/>
<line x1="1060" y1="58.6" x2="1164" y2="55.6" stroke="#167a68" stroke-width="1.7"/>
<line x1="992" y1="19.4" x2="1188" y2="19.4" stroke="#d04556" stroke-width="1.5"/>
<text x="994.5" y="16.8" font-size="10.3" fill="#131722" stroke="#131722" stroke-width="0.3" textLength="43" lengthAdjust="spacingAndGlyphs">Fibo 0.382</text>
<rect x="0" y="2" width="200" height="17.6" fill="#ffffff"/>
<line x1="0" y1="17.6" x2="1188" y2="17.6" stroke="#93aba7" stroke-width="1" stroke-dasharray="1 1"/>
<line x1="0" y1="1" x2="1188" y2="1" stroke="#8c8f99" stroke-width="1" stroke-dasharray="3.5 4.4"/>
<line x1="1119" y1="0" x2="1119" y2="607" stroke="#8c8f99" stroke-width="1" stroke-dasharray="3.5 4.4"/>
<g stroke="#e2e3e7" stroke-width="1.5"><line x1="0" y1="409.8" x2="1221" y2="409.8"/><line x1="0" y1="508.6" x2="1221" y2="508.6"/></g>
<rect x="0" y="445.7" width="1188" height="43.6" fill="#7e57c2" fill-opacity="0.12"/>
<line x1="0" y1="445.7" x2="1188" y2="445.7" stroke="#787b86" stroke-width="1" stroke-dasharray="4 4"/>
<line x1="0" y1="467.5" x2="1188" y2="467.5" stroke="#787b86" stroke-width="1" stroke-dasharray="4 4"/>
<line x1="0" y1="489.3" x2="1188" y2="489.3" stroke="#787b86" stroke-width="1" stroke-dasharray="4 4"/>
<polyline clip-path="url(#cr)" points="0.0,459.8 1.6,461.7 3.9,467.2 7.0,473.5 8.6,472.7 10.2,475.8 12.9,484.5 15.7,475.0 18.5,457.0 21.2,456.2 24.3,455.1 25.9,455.8 28.2,457.8 30.6,457.3 32.9,480.2 35.7,457.8 38.9,455.5 42.0,471.4 44.7,461.7 47.8,459.4 54.1,450.0 59.6,460.5 63.5,449.2 66.6,445.3 70.5,442.9 74.5,436.6 76.8,442.1 80.7,435.1 83.1,439.8 86.2,433.2 89.3,430.8 92.5,429.9 95.3,429.9 98.0,442.9 101.1,446.8 103.8,451.5 106.6,491.8 109.4,473.5 115.2,469.6 119.9,478.2 123.8,482.4 127.3,465.2 130.9,466.4 134.0,467.2 136.4,465.6 141.8,484.5 145.0,462.5 148.1,452.6 150.5,453.6 153.6,471.1 156.3,472.4 159.4,480.5 162.6,463.3 165.4,469.6 168.5,472.7 171.6,475.0 177.6,458.6 183.4,478.2 186.5,482.4 189.2,458.6 195.2,453.1 197.5,455.5 200.6,474.3 203.8,474.6 206.9,461.4 210.0,459.4 214.7,458.9 218.7,473.5 221.8,472.4 224.2,468.0 227.3,469.6 230.4,463.6 235.1,472.7 239.0,479.0 241.9,487.6 244.5,475.8 247.7,470.8 253.9,480.5 256.6,477.4 260.2,482.4 262.9,478.2 265.4,463.3 268.8,468.3 271.2,465.6 280.6,444.2 283.2,448.4 286.4,466.4 289.2,466.1 292.4,460.5 295.0,469.2 297.5,471.9 301.0,479.7 303.8,469.2 306.5,476.1 309.6,447.6 313.5,444.5 318.5,436.3 321.3,438.2 324.8,468.8 330.0,464.5 336.2,477.1 344.9,464.1 347.2,464.9 353.5,452.3 356.6,461.7 359.4,460.9 362.6,479.0 365.2,475.5 368.4,487.6 371.5,482.1 374.6,480.5 377.5,428.0 380.9,424.9 384.0,424.1 388.7,421.8 395.0,420.2 397.8,421.8 403.6,449.2 407.2,443.2 415.4,464.1 418.5,465.2 421.7,469.6 424.0,467.7 427.1,468.3 431.1,483.7 435.8,489.9 438.1,497.8 441.3,499.3 445.2,491.5 448.3,496.5 451.0,497.8 453.8,467.7 457.7,478.2 460.9,481.3 463.2,481.3 468.7,484.9 475.0,468.3 479.7,473.5 483.6,474.3 486.7,444.5 489.5,437.9 494.6,477.7 500.8,463.6 504.0,469.6 507.1,479.0 509.9,495.0 512.6,496.2 515.7,494.6 520.4,478.7 524.3,467.2 527.5,465.6 533.4,454.7 536.6,464.1 539.7,464.1 542.4,457.3 544.7,463.6 548.2,459.8 551.0,464.5 554.1,450.0 556.9,451.1 560.1,458.9 563.2,456.7 565.9,446.4 568.5,452.6 572.1,443.2 574.5,446.0 577.3,434.8 580.8,449.2 583.4,456.2 586.3,451.5 589.4,432.7 592.2,441.0 596.5,434.8 600.7,430.4 604.3,433.8 607.0,432.3 610.1,440.1 612.9,442.9 615.7,440.6 618.9,446.0 621.5,447.3 624.7,432.7 627.3,440.1 630.2,438.2 633.3,429.1 636.4,428.0 639.2,428.3 642.7,434.3 645.8,435.4 648.2,433.8 652.1,445.3 657.1,455.8 659.6,482.1 665.4,484.5 669.0,471.9 674.0,470.3 680.3,439.8 686.3,439.3 689.4,435.4 692.1,447.3 695.7,434.8 698.8,436.3 704.6,432.3 707.3,444.8 710.1,446.4 713.2,450.0 715.6,466.1 719.2,455.1 721.8,461.7 725.0,479.0 727.8,478.7 730.5,497.0 733.6,492.3 736.8,489.6 739.4,497.5 745.4,482.4 748.5,487.6 751.6,489.9 754.5,492.3 757.1,480.2 760.3,482.9 766.1,479.3 769.2,485.2 772.0,469.6 774.8,451.1 778.3,459.4 780.6,456.2 784.2,464.9 789.3,479.0 791.6,477.7 795.5,482.9 801.8,495.4 804.6,488.4 807.3,490.7 810.4,476.1 812.8,479.7 815.9,470.8 819.0,475.5 821.9,466.7 824.5,474.3 827.7,471.9 830.8,463.6 833.9,472.7 836.6,452.3 839.7,446.0 843.3,445.3 848.0,440.1 851.2,447.6 854.3,467.2 857.0,463.0 862.6,495.4 866.1,493.1 868.9,493.9 871.9,498.6 877.8,467.2 880.7,465.2 884.9,468.3 887.2,471.9 889.6,471.9 893.2,482.9 895.9,486.8 899.0,489.2 901.3,475.8 904.2,466.1 906.8,484.0 910.4,468.3 916.2,479.3 921.7,451.5 925.6,448.4 928.8,445.7 930.3,447.3 934.0,438.5 936.1,437.4 939.7,441.3 945.2,434.8 948.4,451.1 951.2,459.8 954.3,454.2 957.5,432.7 960.1,433.8 962.8,430.7 965.9,433.8 969.5,431.2 971.9,432.0 979.7,475.0 983.6,477.4 986.8,464.9 989.9,459.4 992.3,458.3 995.4,451.1 998.8,448.4 1001.3,443.2 1004.0,448.4 1007.6,453.6 1010.3,439.5 1012.6,437.4 1016.6,430.7 1018.9,429.1 1024.7,428.5 1027.5,440.1 1031.9,437.0 1034.1,437.9 1036.6,452.0 1039.8,447.6 1042.9,452.3 1048.2,447.3 1051.4,456.2 1054.2,445.7 1057.3,445.3 1059.7,441.3 1062.8,439.0 1066.7,451.1 1069.1,454.7 1074.9,473.5 1077.7,468.0 1081.1,445.7 1084.0,464.1 1086.3,469.6 1089.9,464.1 1092.6,477.7 1098.4,444.5 1101.2,442.1 1104.0,433.8 1107.5,431.2 1110.6,435.4 1115.6,433.5" fill="none" stroke="#7a6fae" stroke-width="1"/>
<text transform="translate(5.5,0) scale(0.8,1)" x="0" y="426.1" font-size="9.5" fill="#131722" stroke="#131722" stroke-width="0.3">RSI</text>
<g clip-path="url(#cd)" shape-rendering="crispEdges"><rect x="0.1" y="574.8" width="1.8" height="0.8" fill="#229c8e"/>
<rect x="3.1" y="574.8" width="1.8" height="0.8" fill="#ec5b5f"/>
<rect x="5.1" y="574.8" width="1.8" height="1.4" fill="#ec5b5f"/>
<rect x="8.1" y="574.8" width="1.8" height="0.9" fill="#f9c9cd"/>
<rect x="11.1" y="574.6" width="1.8" height="0.8" fill="#229c8e"/>
<rect x="14.1" y="573.9" width="1.8" height="0.9" fill="#229c8e"/>
<rect x="17.1" y="573.9" width="1.8" height="0.9" fill="#229c8e"/>
<rect x="20.1" y="573.2" width="1.8" height="1.6" fill="#229c8e"/>
<rect x="23.1" y="572.3" width="1.8" height="2.5" fill="#229c8e"/>
<rect x="26.1" y="573.0" width="1.8" height="1.8" fill="#b2dfdb"/>
<rect x="29.1" y="574.3" width="1.8" height="0.8" fill="#b2dfdb"/>
<rect x="32.1" y="574.8" width="1.8" height="3.2" fill="#ec5b5f"/>
<rect x="35.1" y="573.8" width="1.8" height="1.0" fill="#229c8e"/>
<rect x="38.1" y="572.7" width="1.8" height="2.1" fill="#229c8e"/>
<rect x="41.1" y="574.8" width="1.8" height="1.6" fill="#ec5b5f"/>
<rect x="44.1" y="574.1" width="1.8" height="0.8" fill="#229c8e"/>
<rect x="47.1" y="573.0" width="1.8" height="1.8" fill="#229c8e"/>
<rect x="50.1" y="572.3" width="1.8" height="2.5" fill="#229c8e"/>
<rect x="53.1" y="571.9" width="1.8" height="2.9" fill="#229c8e"/>
<rect x="56.1" y="572.5" width="1.8" height="2.3" fill="#b2dfdb"/>
<rect x="59.1" y="574.2" width="1.8" height="0.8" fill="#b2dfdb"/>
<rect x="61.1" y="572.3" width="1.8" height="2.5" fill="#229c8e"/>
<rect x="64.1" y="571.3" width="1.8" height="3.5" fill="#229c8e"/>
<rect x="67.1" y="571.8" width="1.8" height="3.0" fill="#b2dfdb"/>
<rect x="70.1" y="572.0" width="1.8" height="2.8" fill="#b2dfdb"/>
<rect x="73.1" y="571.9" width="1.8" height="2.9" fill="#229c8e"/>
<rect x="76.1" y="573.1" width="1.8" height="1.7" fill="#b2dfdb"/>
<rect x="79.1" y="572.3" width="1.8" height="2.5" fill="#229c8e"/>
<rect x="82.1" y="573.0" width="1.8" height="1.8" fill="#b2dfdb"/>
<rect x="85.1" y="571.4" width="1.8" height="3.4" fill="#229c8e"/>
<rect x="88.1" y="570.4" width="1.8" height="4.4" fill="#229c8e"/>
<rect x="91.1" y="572.0" width="1.8" height="2.8" fill="#b2dfdb"/>
<rect x="94.1" y="573.6" width="1.8" height="1.2" fill="#b2dfdb"/>
<rect x="97.1" y="574.8" width="1.8" height="1.9" fill="#ec5b5f"/>
<rect x="100.1" y="574.8" width="1.8" height="3.7" fill="#ec5b5f"/>
<rect x="103.1" y="574.8" width="1.8" height="4.8" fill="#ec5b5f"/>
<rect x="106.1" y="574.8" width="1.8" height="12.5" fill="#ec5b5f"/>
<rect x="109.1" y="574.8" width="1.8" height="11.8" fill="#f9c9cd"/>
<rect x="112.1" y="574.8" width="1.8" height="7.7" fill="#f9c9cd"/>
<rect x="114.1" y="574.8" width="1.8" height="4.6" fill="#f9c9cd"/>
<rect x="117.1" y="574.8" width="1.8" height="3.3" fill="#f9c9cd"/>
<rect x="120.1" y="574.8" width="1.8" height="4.2" fill="#ec5b5f"/>
<rect x="123.1" y="574.8" width="1.8" height="4.6" fill="#ec5b5f"/>
<rect x="126.1" y="574.8" width="1.8" height="0.9" fill="#f9c9cd"/>
<rect x="129.1" y="573.4" width="1.8" height="1.4" fill="#229c8e"/>
<rect x="132.1" y="572.9" width="1.8" height="1.9" fill="#229c8e"/>
<rect x="135.1" y="572.9" width="1.8" height="1.9" fill="#b2dfdb"/>
<rect x="138.1" y="574.7" width="1.8" height="0.8" fill="#b2dfdb"/>
<rect x="141.1" y="574.8" width="1.8" height="2.3" fill="#ec5b5f"/>
<rect x="144.1" y="572.7" width="1.8" height="2.1" fill="#229c8e"/>
<rect x="147.1" y="570.4" width="1.8" height="4.4" fill="#229c8e"/>
<rect x="150.1" y="569.4" width="1.8" height="5.4" fill="#229c8e"/>
<rect x="153.1" y="573.9" width="1.8" height="0.9" fill="#b2dfdb"/>
<rect x="156.1" y="574.8" width="1.8" height="2.2" fill="#ec5b5f"/>
<rect x="159.1" y="574.8" width="1.8" height="4.3" fill="#ec5b5f"/>
<rect x="162.1" y="574.8" width="1.8" height="1.5" fill="#f9c9cd"/>
<rect x="165.1" y="574.7" width="1.8" height="0.8" fill="#229c8e"/>
<rect x="168.1" y="574.8" width="1.8" height="1.2" fill="#ec5b5f"/>
<rect x="170.1" y="574.8" width="1.8" height="1.9" fill="#ec5b5f"/>
<rect x="173.1" y="574.8" width="1.8" height="0.8" fill="#f9c9cd"/>
<rect x="176.1" y="573.6" width="1.8" height="1.2" fill="#229c8e"/>
<rect x="179.1" y="574.4" width="1.8" height="0.8" fill="#b2dfdb"/>
<rect x="182.1" y="574.8" width="1.8" height="1.1" fill="#ec5b5f"/>
<rect x="185.1" y="574.8" width="1.8" height="3.2" fill="#ec5b5f"/>
<rect x="188.1" y="573.1" width="1.8" height="1.7" fill="#229c8e"/>
<rect x="191.1" y="569.6" width="1.8" height="5.2" fill="#229c8e"/>
<rect x="194.1" y="569.6" width="1.8" height="5.2" fill="#229c8e"/>
<rect x="197.1" y="570.5" width="1.8" height="4.3" fill="#b2dfdb"/>
<rect x="200.1" y="574.8" width="1.8" height="1.0" fill="#ec5b5f"/>
<rect x="203.1" y="574.8" width="1.8" height="3.6" fill="#ec5b5f"/>
<rect x="206.1" y="574.8" width="1.8" height="0.8" fill="#f9c9cd"/>
<rect x="209.1" y="573.6" width="1.8" height="1.2" fill="#229c8e"/>
<rect x="212.1" y="573.2" width="1.8" height="1.6" fill="#229c8e"/>
<rect x="215.1" y="573.9" width="1.8" height="0.9" fill="#b2dfdb"/>
<rect x="218.1" y="574.8" width="1.8" height="1.3" fill="#ec5b5f"/>
<rect x="221.1" y="574.8" width="1.8" height="2.3" fill="#ec5b5f"/>
<rect x="223.1" y="574.8" width="1.8" height="1.5" fill="#f9c9cd"/>
<rect x="226.1" y="574.8" width="1.8" height="1.1" fill="#f9c9cd"/>
<rect x="229.1" y="574.8" width="1.8" height="0.8" fill="#f9c9cd"/>
<rect x="232.1" y="574.8" width="1.8" height="0.8" fill="#f9c9cd"/>
<rect x="235.1" y="574.8" width="1.8" height="1.3" fill="#ec5b5f"/>
<rect x="238.1" y="574.8" width="1.8" height="2.2" fill="#ec5b5f"/>
<rect x="241.1" y="574.8" width="1.8" height="2.7" fill="#ec5b5f"/>
<rect x="244.1" y="574.8" width="1.8" height="0.9" fill="#f9c9cd"/>
<rect x="247.1" y="574.5" width="1.8" height="0.8" fill="#229c8e"/>
<rect x="250.1" y="574.6" width="1.8" height="0.8" fill="#b2dfdb"/>
<rect x="253.1" y="574.8" width="1.8" height="0.8" fill="#ec5b5f"/>
<rect x="256.1" y="574.8" width="1.8" height="0.8" fill="#ec5b5f"/>
<rect x="259.1" y="574.8" width="1.8" height="0.8" fill="#ec5b5f"/>
<rect x="262.1" y="574.3" width="1.8" height="0.8" fill="#229c8e"/>
<rect x="265.1" y="573.4" width="1.8" height="1.4" fill="#229c8e"/>
<rect x="268.1" y="573.1" width="1.8" height="1.7" fill="#229c8e"/>
<rect x="271.1" y="573.1" width="1.8" height="1.7" fill="#229c8e"/>
<rect x="274.1" y="573.0" width="1.8" height="1.8" fill="#229c8e"/>
<rect x="276.1" y="572.6" width="1.8" height="2.2" fill="#229c8e"/>
<rect x="279.1" y="572.2" width="1.8" height="2.6" fill="#229c8e"/>
<rect x="282.1" y="572.6" width="1.8" height="2.2" fill="#b2dfdb"/>
<rect x="285.1" y="574.7" width="1.8" height="0.8" fill="#b2dfdb"/>
<rect x="288.1" y="574.8" width="1.8" height="0.8" fill="#ec5b5f"/>
<rect x="291.1" y="574.8" width="1.8" height="0.8" fill="#ec5b5f"/>
<rect x="294.1" y="574.8" width="1.8" height="0.9" fill="#ec5b5f"/>
<rect x="297.1" y="574.8" width="1.8" height="1.3" fill="#ec5b5f"/>
<rect x="300.1" y="574.8" width="1.8" height="1.4" fill="#ec5b5f"/>
<rect x="303.1" y="574.8" width="1.8" height="1.3" fill="#f9c9cd"/>
<rect x="306.1" y="574.8" width="1.8" height="0.8" fill="#f9c9cd"/>
<rect x="309.1" y="572.6" width="1.8" height="2.2" fill="#229c8e"/>
<rect x="312.1" y="571.3" width="1.8" height="3.5" fill="#229c8e"/>
<rect x="315.1" y="570.6" width="1.8" height="4.2" fill="#229c8e"/>
<rect x="318.1" y="571.7" width="1.8" height="3.1" fill="#b2dfdb"/>
<rect x="321.1" y="572.8" width="1.8" height="2.0" fill="#b2dfdb"/>
<rect x="324.1" y="574.8" width="1.8" height="0.8" fill="#ec5b5f"/>
<rect x="327.1" y="574.8" width="1.8" height="1.5" fill="#ec5b5f"/>
<rect x="330.1" y="574.8" width="1.8" height="2.2" fill="#ec5b5f"/>
<rect x="332.1" y="574.8" width="1.8" height="2.7" fill="#ec5b5f"/>
<rect x="335.1" y="574.8" width="1.8" height="3.0" fill="#ec5b5f"/>
<rect x="338.1" y="574.8" width="1.8" height="2.2" fill="#f9c9cd"/>
<rect x="341.1" y="574.8" width="1.8" height="1.2" fill="#f9c9cd"/>
<rect x="344.1" y="574.8" width="1.8" height="0.8" fill="#f9c9cd"/>
<rect x="347.1" y="574.5" width="1.8" height="0.8" fill="#229c8e"/>
<rect x="350.1" y="573.8" width="1.8" height="1.0" fill="#229c8e"/>
<rect x="353.1" y="573.5" width="1.8" height="1.3" fill="#229c8e"/>
<rect x="356.1" y="574.3" width="1.8" height="0.8" fill="#b2dfdb"/>
<rect x="359.1" y="574.7" width="1.8" height="0.8" fill="#b2dfdb"/>
<rect x="362.1" y="574.8" width="1.8" height="0.9" fill="#ec5b5f"/>
<rect x="365.1" y="574.8" width="1.8" height="1.7" fill="#ec5b5f"/>
<rect x="368.1" y="574.8" width="1.8" height="2.0" fill="#ec5b5f"/>
<rect x="371.1" y="574.8" width="1.8" height="1.6" fill="#f9c9cd"/>
<rect x="374.1" y="574.8" width="1.8" height="1.0" fill="#f9c9cd"/>
<rect x="377.1" y="567.4" width="1.8" height="7.4" fill="#229c8e"/>
<rect x="380.1" y="556.9" width="1.8" height="17.9" fill="#229c8e"/>
<rect x="383.1" y="560.3" width="1.8" height="14.5" fill="#b2dfdb"/>
<rect x="385.1" y="562.9" width="1.8" height="11.9" fill="#b2dfdb"/>
<rect x="388.1" y="566.4" width="1.8" height="8.4" fill="#b2dfdb"/>
<rect x="391.1" y="569.7" width="1.8" height="5.1" fill="#b2dfdb"/>
<rect x="394.1" y="572.5" width="1.8" height="2.3" fill="#b2dfdb"/>
<rect x="397.1" y="574.7" width="1.8" height="0.8" fill="#b2dfdb"/>
<rect x="400.1" y="574.8" width="1.8" height="2.1" fill="#ec5b5f"/>
<rect x="403.1" y="574.8" width="1.8" height="5.6" fill="#ec5b5f"/>
<rect x="406.1" y="574.8" width="1.8" height="5.4" fill="#f9c9cd"/>
<rect x="409.1" y="574.8" width="1.8" height="5.7" fill="#ec5b5f"/>
<rect x="412.1" y="574.8" width="1.8" height="5.9" fill="#ec5b5f"/>
<rect x="415.1" y="574.8" width="1.8" height="6.3" fill="#ec5b5f"/>
<rect x="418.1" y="574.8" width="1.8" height="6.4" fill="#ec5b5f"/>
<rect x="421.1" y="574.8" width="1.8" height="6.4" fill="#f9c9cd"/>
<rect x="424.1" y="574.8" width="1.8" height="5.4" fill="#f9c9cd"/>
<rect x="427.1" y="574.8" width="1.8" height="4.6" fill="#f9c9cd"/>
<rect x="430.1" y="574.8" width="1.8" height="4.9" fill="#ec5b5f"/>
<rect x="433.1" y="574.8" width="1.8" height="5.1" fill="#ec5b5f"/>
<rect x="436.1" y="574.8" width="1.8" height="5.2" fill="#ec5b5f"/>
<rect x="439.1" y="574.8" width="1.8" height="4.6" fill="#f9c9cd"/>
<rect x="441.1" y="574.8" width="1.8" height="4.0" fill="#f9c9cd"/>
<rect x="444.1" y="574.8" width="1.8" height="2.3" fill="#f9c9cd"/>
<rect x="447.1" y="574.8" width="1.8" height="1.8" fill="#f9c9cd"/>
<rect x="450.1" y="574.8" width="1.8" height="0.9" fill="#f9c9cd"/>
<rect x="453.1" y="572.6" width="1.8" height="2.2" fill="#229c8e"/>
<rect x="456.1" y="573.7" width="1.8" height="1.1" fill="#b2dfdb"/>
<rect x="459.1" y="574.2" width="1.8" height="0.8" fill="#b2dfdb"/>
<rect x="462.1" y="574.4" width="1.8" height="0.8" fill="#b2dfdb"/>
<rect x="465.1" y="574.5" width="1.8" height="0.8" fill="#b2dfdb"/>
<rect x="468.1" y="574.4" width="1.8" height="0.8" fill="#229c8e"/>
<rect x="471.1" y="573.6" width="1.8" height="1.2" fill="#229c8e"/>
<rect x="474.1" y="573.2" width="1.8" height="1.6" fill="#229c8e"/>
<rect x="477.1" y="573.2" width="1.8" height="1.6" fill="#229c8e"/>
<rect x="480.1" y="573.4" width="1.8" height="1.4" fill="#b2dfdb"/>
<rect x="483.1" y="573.3" width="1.8" height="1.5" fill="#229c8e"/>
<rect x="486.1" y="572.0" width="1.8" height="2.8" fill="#229c8e"/>
<rect x="489.1" y="568.9" width="1.8" height="5.9" fill="#229c8e"/>
<rect x="492.1" y="571.8" width="1.8" height="3.0" fill="#b2dfdb"/>
<rect x="494.1" y="574.8" width="1.8" height="1.4" fill="#ec5b5f"/>
<rect x="497.1" y="574.8" width="1.8" height="1.7" fill="#ec5b5f"/>
<rect x="500.1" y="574.8" width="1.8" height="0.8" fill="#f9c9cd"/>
<rect x="503.1" y="574.8" width="1.8" height="0.8" fill="#ec5b5f"/>
<rect x="506.1" y="574.8" width="1.8" height="2.6" fill="#ec5b5f"/>
<rect x="509.1" y="574.8" width="1.8" height="6.2" fill="#ec5b5f"/>
<rect x="512.1" y="574.8" width="1.8" height="9.8" fill="#ec5b5f"/>
<rect x="515.1" y="574.8" width="1.8" height="6.4" fill="#f9c9cd"/>
<rect x="518.1" y="574.8" width="1.8" height="1.8" fill="#f9c9cd"/>
<rect x="521.1" y="572.0" width="1.8" height="2.8" fill="#229c8e"/>
<rect x="524.1" y="570.2" width="1.8" height="4.6" fill="#229c8e"/>
<rect x="527.1" y="569.6" width="1.8" height="5.2" fill="#229c8e"/>
<rect x="530.1" y="570.1" width="1.8" height="4.7" fill="#b2dfdb"/>
<rect x="533.1" y="570.6" width="1.8" height="4.2" fill="#b2dfdb"/>
<rect x="536.1" y="572.1" width="1.8" height="2.7" fill="#b2dfdb"/>
<rect x="539.1" y="572.9" width="1.8" height="1.9" fill="#b2dfdb"/>
<rect x="542.1" y="573.4" width="1.8" height="1.4" fill="#b2dfdb"/>
<rect x="545.1" y="573.9" width="1.8" height="0.9" fill="#b2dfdb"/>
<rect x="547.1" y="574.2" width="1.8" height="0.8" fill="#b2dfdb"/>
<rect x="550.1" y="573.5" width="1.8" height="1.3" fill="#229c8e"/>
<rect x="553.1" y="573.1" width="1.8" height="1.7" fill="#229c8e"/>
<rect x="556.1" y="573.6" width="1.8" height="1.2" fill="#b2dfdb"/>
<rect x="559.1" y="574.4" width="1.8" height="0.8" fill="#b2dfdb"/>
<rect x="562.1" y="574.3" width="1.8" height="0.8" fill="#229c8e"/>
<rect x="565.1" y="573.4" width="1.8" height="1.4" fill="#229c8e"/>
<rect x="568.1" y="573.1" width="1.8" height="1.7" fill="#229c8e"/>
<rect x="571.1" y="573.0" width="1.8" height="1.8" fill="#229c8e"/>
<rect x="574.1" y="573.0" width="1.8" height="1.8" fill="#229c8e"/>
<rect x="577.1" y="572.4" width="1.8" height="2.4" fill="#229c8e"/>
<rect x="580.1" y="573.6" width="1.8" height="1.2" fill="#b2dfdb"/>
<rect x="583.1" y="574.8" width="1.8" height="0.8" fill="#ec5b5f"/>
<rect x="586.1" y="573.7" width="1.8" height="1.1" fill="#229c8e"/>
<rect x="589.1" y="570.1" width="1.8" height="4.7" fill="#229c8e"/>
<rect x="592.1" y="570.4" width="1.8" height="4.4" fill="#b2dfdb"/>
<rect x="595.1" y="570.0" width="1.8" height="4.8" fill="#229c8e"/>
<rect x="598.1" y="569.5" width="1.8" height="5.3" fill="#229c8e"/>
<rect x="601.1" y="569.4" width="1.8" height="5.4" fill="#229c8e"/>
<rect x="603.1" y="572.3" width="1.8" height="2.5" fill="#b2dfdb"/>
<rect x="606.1" y="574.5" width="1.8" height="0.8" fill="#b2dfdb"/>
<rect x="609.1" y="574.8" width="1.8" height="2.0" fill="#ec5b5f"/>
<rect x="612.1" y="574.8" width="1.8" height="3.1" fill="#ec5b5f"/>
<rect x="615.1" y="574.8" width="1.8" height="3.3" fill="#ec5b5f"/>
<rect x="618.1" y="574.8" width="1.8" height="3.1" fill="#f9c9cd"/>
<rect x="621.1" y="574.8" width="1.8" height="2.6" fill="#f9c9cd"/>
<rect x="624.1" y="574.6" width="1.8" height="0.8" fill="#229c8e"/>
<rect x="627.1" y="574.4" width="1.8" height="0.8" fill="#229c8e"/>
<rect x="630.1" y="572.6" width="1.8" height="2.2" fill="#229c8e"/>
<rect x="633.1" y="570.6" width="1.8" height="4.2" fill="#229c8e"/>
<rect x="636.1" y="571.8" width="1.8" height="3.0" fill="#b2dfdb"/>
<rect x="639.1" y="573.1" width="1.8" height="1.7" fill="#b2dfdb"/>
<rect x="642.1" y="574.8" width="1.8" height="0.8" fill="#ec5b5f"/>
<rect x="645.1" y="574.8" width="1.8" height="1.5" fill="#ec5b5f"/>
<rect x="648.1" y="574.8" width="1.8" height="2.6" fill="#ec5b5f"/>
<rect x="651.1" y="574.8" width="1.8" height="3.2" fill="#ec5b5f"/>
<rect x="654.1" y="574.8" width="1.8" height="3.9" fill="#ec5b5f"/>
<rect x="656.1" y="574.8" width="1.8" height="4.7" fill="#ec5b5f"/>
<rect x="659.1" y="574.8" width="1.8" height="6.4" fill="#ec5b5f"/>
<rect x="662.1" y="574.8" width="1.8" height="7.0" fill="#ec5b5f"/>
<rect x="665.1" y="574.8" width="1.8" height="7.0" fill="#f9c9cd"/>
<rect x="668.1" y="574.8" width="1.8" height="4.4" fill="#f9c9cd"/>
<rect x="671.1" y="574.8" width="1.8" height="2.3" fill="#f9c9cd"/>
<rect x="674.1" y="574.8" width="1.8" height="0.8" fill="#f9c9cd"/>
<rect x="677.1" y="573.1" width="1.8" height="1.7" fill="#229c8e"/>
<rect x="680.1" y="570.2" width="1.8" height="4.6" fill="#229c8e"/>
<rect x="683.1" y="570.5" width="1.8" height="4.3" fill="#b2dfdb"/>
<rect x="686.1" y="571.4" width="1.8" height="3.4" fill="#b2dfdb"/>
<rect x="689.1" y="572.2" width="1.8" height="2.6" fill="#b2dfdb"/>
<rect x="692.1" y="572.2" width="1.8" height="2.6" fill="#b2dfdb"/>
<rect x="695.1" y="571.8" width="1.8" height="3.0" fill="#229c8e"/>
<rect x="698.1" y="572.5" width="1.8" height="2.3" fill="#b2dfdb"/>
<rect x="701.1" y="573.0" width="1.8" height="1.8" fill="#b2dfdb"/>
<rect x="704.1" y="573.3" width="1.8" height="1.5" fill="#b2dfdb"/>
<rect x="707.1" y="574.8" width="1.8" height="0.8" fill="#ec5b5f"/>
<rect x="710.1" y="574.8" width="1.8" height="1.7" fill="#ec5b5f"/>
<rect x="712.1" y="574.8" width="1.8" height="3.1" fill="#ec5b5f"/>
<rect x="715.1" y="574.8" width="1.8" height="3.7" fill="#ec5b5f"/>
<rect x="718.1" y="574.8" width="1.8" height="3.0" fill="#f9c9cd"/>
<rect x="721.1" y="574.8" width="1.8" height="2.6" fill="#f9c9cd"/>
<rect x="724.1" y="574.8" width="1.8" height="3.6" fill="#ec5b5f"/>
<rect x="727.1" y="574.8" width="1.8" height="4.8" fill="#ec5b5f"/>
<rect x="730.1" y="574.8" width="1.8" height="7.0" fill="#ec5b5f"/>
<rect x="733.1" y="574.8" width="1.8" height="7.0" fill="#f9c9cd"/>
<rect x="736.1" y="574.8" width="1.8" height="7.0" fill="#f9c9cd"/>
<rect x="739.1" y="574.8" width="1.8" height="5.1" fill="#f9c9cd"/>
<rect x="742.1" y="574.8" width="1.8" height="2.8" fill="#f9c9cd"/>
<rect x="745.1" y="574.8" width="1.8" height="0.8" fill="#f9c9cd"/>
<rect x="748.1" y="574.7" width="1.8" height="0.8" fill="#229c8e"/>
<rect x="751.1" y="574.8" width="1.8" height="0.8" fill="#ec5b5f"/>
<rect x="754.1" y="574.6" width="1.8" height="0.8" fill="#229c8e"/>
<rect x="757.1" y="573.5" width="1.8" height="1.3" fill="#229c8e"/>
<rect x="760.1" y="573.0" width="1.8" height="1.8" fill="#229c8e"/>
<rect x="763.1" y="573.2" width="1.8" height="1.6" fill="#b2dfdb"/>
<rect x="765.1" y="573.3" width="1.8" height="1.5" fill="#b2dfdb"/>
<rect x="768.1" y="573.0" width="1.8" height="1.8" fill="#229c8e"/>
<rect x="771.1" y="572.3" width="1.8" height="2.5" fill="#229c8e"/>
<rect x="774.1" y="569.6" width="1.8" height="5.2" fill="#229c8e"/>
<rect x="777.1" y="569.9" width="1.8" height="4.9" fill="#b2dfdb"/>
<rect x="780.1" y="571.7" width="1.8" height="3.1" fill="#b2dfdb"/>
<rect x="783.1" y="573.6" width="1.8" height="1.2" fill="#b2dfdb"/>
<rect x="786.1" y="574.8" width="1.8" height="0.8" fill="#ec5b5f"/>
<rect x="789.1" y="574.8" width="1.8" height="1.3" fill="#ec5b5f"/>
<rect x="792.1" y="574.8" width="1.8" height="1.8" fill="#ec5b5f"/>
<rect x="795.1" y="574.8" width="1.8" height="2.4" fill="#ec5b5f"/>
<rect x="798.1" y="574.8" width="1.8" height="3.2" fill="#ec5b5f"/>
<rect x="801.1" y="574.8" width="1.8" height="3.3" fill="#ec5b5f"/>
<rect x="804.1" y="574.8" width="1.8" height="2.1" fill="#f9c9cd"/>
<rect x="807.1" y="574.8" width="1.8" height="1.1" fill="#f9c9cd"/>
<rect x="810.1" y="574.4" width="1.8" height="0.8" fill="#229c8e"/>
<rect x="813.1" y="573.7" width="1.8" height="1.1" fill="#229c8e"/>
<rect x="816.1" y="573.3" width="1.8" height="1.5" fill="#229c8e"/>
<rect x="818.1" y="573.3" width="1.8" height="1.5" fill="#b2dfdb"/>
<rect x="821.1" y="573.3" width="1.8" height="1.5" fill="#b2dfdb"/>
<rect x="824.1" y="573.5" width="1.8" height="1.3" fill="#b2dfdb"/>
<rect x="827.1" y="573.5" width="1.8" height="1.3" fill="#b2dfdb"/>
<rect x="830.1" y="573.4" width="1.8" height="1.4" fill="#229c8e"/>
<rect x="833.1" y="572.9" width="1.8" height="1.9" fill="#229c8e"/>
<rect x="836.1" y="572.6" width="1.8" height="2.2" fill="#229c8e"/>
<rect x="839.1" y="571.5" width="1.8" height="3.3" fill="#229c8e"/>
<rect x="842.1" y="571.3" width="1.8" height="3.5" fill="#229c8e"/>
<rect x="845.1" y="572.0" width="1.8" height="2.8" fill="#b2dfdb"/>
<rect x="848.1" y="572.5" width="1.8" height="2.3" fill="#b2dfdb"/>
<rect x="851.1" y="574.8" width="1.8" height="0.8" fill="#b2dfdb"/>
<rect x="854.1" y="574.8" width="1.8" height="1.1" fill="#ec5b5f"/>
<rect x="857.1" y="574.8" width="1.8" height="2.2" fill="#ec5b5f"/>
<rect x="860.1" y="574.8" width="1.8" height="4.1" fill="#ec5b5f"/>
<rect x="863.1" y="574.8" width="1.8" height="6.2" fill="#ec5b5f"/>
<rect x="866.1" y="574.8" width="1.8" height="7.4" fill="#ec5b5f"/>
<rect x="869.1" y="574.8" width="1.8" height="5.5" fill="#f9c9cd"/>
<rect x="872.1" y="574.8" width="1.8" height="3.6" fill="#f9c9cd"/>
<rect x="874.1" y="574.7" width="1.8" height="0.8" fill="#229c8e"/>
<rect x="877.1" y="572.8" width="1.8" height="2.0" fill="#229c8e"/>
<rect x="880.1" y="571.8" width="1.8" height="3.0" fill="#229c8e"/>
<rect x="883.1" y="571.8" width="1.8" height="3.0" fill="#b2dfdb"/>
<rect x="886.1" y="572.7" width="1.8" height="2.1" fill="#b2dfdb"/>
<rect x="889.1" y="573.9" width="1.8" height="0.9" fill="#b2dfdb"/>
<rect x="892.1" y="574.8" width="1.8" height="0.8" fill="#ec5b5f"/>
<rect x="895.1" y="574.8" width="1.8" height="1.6" fill="#ec5b5f"/>
<rect x="898.1" y="574.8" width="1.8" height="1.1" fill="#f9c9cd"/>
<rect x="901.1" y="574.1" width="1.8" height="0.8" fill="#229c8e"/>
<rect x="904.1" y="573.7" width="1.8" height="1.1" fill="#229c8e"/>
<rect x="907.1" y="574.8" width="1.8" height="0.8" fill="#ec5b5f"/>
<rect x="910.1" y="574.2" width="1.8" height="0.8" fill="#229c8e"/>
<rect x="913.1" y="574.2" width="1.8" height="0.8" fill="#b2dfdb"/>
<rect x="916.1" y="574.8" width="1.8" height="0.8" fill="#ec5b5f"/>
<rect x="919.1" y="572.6" width="1.8" height="2.2" fill="#229c8e"/>
<rect x="922.1" y="570.4" width="1.8" height="4.4" fill="#229c8e"/>
<rect x="925.1" y="569.9" width="1.8" height="4.9" fill="#229c8e"/>
<rect x="927.1" y="569.7" width="1.8" height="5.1" fill="#229c8e"/>
<rect x="930.1" y="570.6" width="1.8" height="4.2" fill="#b2dfdb"/>
<rect x="933.1" y="571.0" width="1.8" height="3.8" fill="#b2dfdb"/>
<rect x="936.1" y="571.2" width="1.8" height="3.6" fill="#b2dfdb"/>
<rect x="939.1" y="572.5" width="1.8" height="2.3" fill="#b2dfdb"/>
<rect x="942.1" y="573.2" width="1.8" height="1.6" fill="#b2dfdb"/>
<rect x="945.1" y="573.9" width="1.8" height="0.9" fill="#b2dfdb"/>
<rect x="948.1" y="574.8" width="1.8" height="1.2" fill="#ec5b5f"/>
<rect x="951.1" y="574.8" width="1.8" height="2.2" fill="#ec5b5f"/>
<rect x="954.1" y="574.8" width="1.8" height="0.8" fill="#f9c9cd"/>
<rect x="957.1" y="570.8" width="1.8" height="4.0" fill="#229c8e"/>
<rect x="960.1" y="569.5" width="1.8" height="5.3" fill="#229c8e"/>
<rect x="963.1" y="569.3" width="1.8" height="5.5" fill="#229c8e"/>
<rect x="966.1" y="571.7" width="1.8" height="3.1" fill="#b2dfdb"/>
<rect x="969.1" y="572.5" width="1.8" height="2.3" fill="#b2dfdb"/>
<rect x="972.1" y="574.8" width="1.8" height="0.8" fill="#ec5b5f"/>
<rect x="975.1" y="574.8" width="1.8" height="2.7" fill="#ec5b5f"/>
<rect x="978.1" y="574.8" width="1.8" height="5.8" fill="#ec5b5f"/>
<rect x="981.1" y="574.8" width="1.8" height="7.8" fill="#ec5b5f"/>
<rect x="983.1" y="574.8" width="1.8" height="8.6" fill="#ec5b5f"/>
<rect x="986.1" y="574.8" width="1.8" height="4.6" fill="#f9c9cd"/>
<rect x="989.1" y="574.8" width="1.8" height="1.9" fill="#f9c9cd"/>
<rect x="992.1" y="574.8" width="1.8" height="0.8" fill="#229c8e"/>
<rect x="995.1" y="573.4" width="1.8" height="1.4" fill="#229c8e"/>
<rect x="998.1" y="572.5" width="1.8" height="2.3" fill="#229c8e"/>
<rect x="1001.1" y="572.5" width="1.8" height="2.3" fill="#229c8e"/>
<rect x="1004.1" y="573.5" width="1.8" height="1.3" fill="#b2dfdb"/>
<rect x="1007.1" y="574.4" width="1.8" height="0.8" fill="#b2dfdb"/>
<rect x="1010.1" y="572.2" width="1.8" height="2.6" fill="#229c8e"/>
<rect x="1013.1" y="571.1" width="1.8" height="3.7" fill="#229c8e"/>
<rect x="1016.1" y="570.4" width="1.8" height="4.4" fill="#229c8e"/>
<rect x="1019.1" y="570.1" width="1.8" height="4.7" fill="#229c8e"/>
<rect x="1022.1" y="572.0" width="1.8" height="2.8" fill="#b2dfdb"/>
<rect x="1025.1" y="574.2" width="1.8" height="0.8" fill="#b2dfdb"/>
<rect x="1028.1" y="574.8" width="1.8" height="1.3" fill="#ec5b5f"/>
<rect x="1031.1" y="574.8" width="1.8" height="2.1" fill="#ec5b5f"/>
<rect x="1034.1" y="574.8" width="1.8" height="2.5" fill="#ec5b5f"/>
<rect x="1036.1" y="574.8" width="1.8" height="2.9" fill="#ec5b5f"/>
<rect x="1039.1" y="574.8" width="1.8" height="3.1" fill="#ec5b5f"/>
<rect x="1042.1" y="574.8" width="1.8" height="2.8" fill="#f9c9cd"/>
<rect x="1045.1" y="574.8" width="1.8" height="2.2" fill="#f9c9cd"/>
<rect x="1048.1" y="574.8" width="1.8" height="1.9" fill="#f9c9cd"/>
<rect x="1051.1" y="574.8" width="1.8" height="1.6" fill="#f9c9cd"/>
<rect x="1054.1" y="574.8" width="1.8" height="0.8" fill="#f9c9cd"/>
<rect x="1057.1" y="574.8" width="1.8" height="0.8" fill="#229c8e"/>
<rect x="1060.1" y="574.8" width="1.8" height="0.8" fill="#229c8e"/>
<rect x="1063.1" y="574.8" width="1.8" height="0.8" fill="#ec5b5f"/>
<rect x="1066.1" y="574.8" width="1.8" height="1.0" fill="#ec5b5f"/>
<rect x="1069.1" y="574.8" width="1.8" height="1.5" fill="#ec5b5f"/>
<rect x="1072.1" y="574.8" width="1.8" height="2.2" fill="#ec5b5f"/>
<rect x="1075.1" y="574.8" width="1.8" height="2.6" fill="#ec5b5f"/>
<rect x="1078.1" y="574.8" width="1.8" height="1.4" fill="#f9c9cd"/>
<rect x="1081.1" y="574.5" width="1.8" height="0.8" fill="#229c8e"/>
<rect x="1084.1" y="574.8" width="1.8" height="0.8" fill="#ec5b5f"/>
<rect x="1087.1" y="574.8" width="1.8" height="1.0" fill="#ec5b5f"/>
<rect x="1089.1" y="574.8" width="1.8" height="1.4" fill="#ec5b5f"/>
<rect x="1092.1" y="574.8" width="1.8" height="0.9" fill="#f9c9cd"/>
<rect x="1095.1" y="572.6" width="1.8" height="2.2" fill="#229c8e"/>
<rect x="1098.1" y="569.5" width="1.8" height="5.3" fill="#229c8e"/>
<rect x="1101.1" y="567.9" width="1.8" height="6.9" fill="#229c8e"/>
<rect x="1104.1" y="568.5" width="1.8" height="6.3" fill="#b2dfdb"/>
<rect x="1107.1" y="569.4" width="1.8" height="5.4" fill="#b2dfdb"/>
<rect x="1110.1" y="571.3" width="1.8" height="3.5" fill="#b2dfdb"/>
<rect x="1113.1" y="573.2" width="1.8" height="1.6" fill="#b2dfdb"/>
<rect x="1116.1" y="574.2" width="1.8" height="0.8" fill="#b2dfdb"/></g>
<polyline clip-path="url(#cd)" points="0.6,571.7 3.5,572.8 6.5,575.1 9.4,575.5 12.4,574.1 15.3,572.6 18.3,571.6 21.2,569.3 24.2,565.9 27.1,564.7 30.1,565.6 33.0,572.4 35.9,567.3 38.9,564.1 41.8,569.5 44.8,566.5 47.7,563.6 50.7,560.4 53.6,557.1 56.6,555.4 59.5,556.4 62.5,552.0 65.4,547.6 68.3,545.0 71.3,542.4 74.2,539.5 77.2,538.9 80.1,535.7 83.1,534.5 86.0,529.6 89.0,524.2 91.9,523.1 94.9,523.5 97.8,528.6 100.8,534.1 103.7,540.0 106.6,560.1 109.6,571.3 112.5,574.9 115.5,576.4 118.4,578.4 121.4,583.5 124.3,588.6 127.3,585.8 130.2,582.1 133.2,579.7 136.1,577.9 139.0,579.5 142.0,584.3 144.9,577.7 147.9,571.1 150.8,564.6 153.8,568.2 156.7,573.4 159.7,579.8 162.6,578.5 165.6,576.9 168.5,579.4 171.4,582.0 174.4,580.3 177.3,577.8 180.3,578.2 183.2,580.8 186.2,586.2 189.1,579.5 192.1,570.9 195.0,565.7 198.0,562.3 200.9,568.6 203.8,574.9 206.8,571.9 209.7,569.2 212.7,567.1 215.6,566.8 218.6,570.4 221.5,573.7 224.5,574.4 227.4,575.1 230.4,575.3 233.3,575.5 236.3,577.6 239.2,580.7 242.1,583.8 245.1,582.9 248.0,581.5 251.0,581.4 253.9,582.1 256.9,582.8 259.8,583.5 262.8,582.0 265.7,579.6 268.7,577.6 271.6,575.8 274.5,574.1 277.5,571.4 280.4,568.5 283.4,566.7 286.3,568.7 289.3,569.6 292.2,570.3 295.2,571.6 298.1,573.4 301.1,574.8 304.0,576.0 306.9,576.1 309.9,570.9 312.8,566.1 315.8,561.3 318.7,559.3 321.7,558.4 324.6,561.1 327.6,563.7 330.5,566.6 333.5,569.9 336.4,573.1 339.3,574.5 342.3,574.7 345.2,574.9 348.2,573.6 351.1,571.9 354.1,570.3 357.0,570.7 360.0,571.0 362.9,573.0 365.9,575.3 368.8,577.7 371.8,578.9 374.7,579.3 377.6,563.6 380.6,535.2 383.5,524.1 386.5,514.8 389.4,509.8 392.4,508.0 395.3,508.6 398.3,510.6 401.2,514.9 404.2,524.1 407.1,529.3 410.0,535.2 413.0,541.4 415.9,548.1 418.9,554.6 421.8,561.0 424.8,565.5 427.7,569.1 430.7,574.4 433.6,579.7 436.6,585.0 439.5,589.0 442.4,592.4 445.4,593.0 448.3,594.3 451.3,594.3 454.2,589.1 457.2,589.1 460.1,589.0 463.1,588.8 466.0,588.5 469.0,588.1 471.9,586.1 474.8,584.2 477.8,582.6 480.7,581.3 483.7,579.7 486.6,575.6 489.6,566.6 492.5,566.6 495.5,572.3 498.4,574.3 501.4,573.9 504.3,574.9 507.3,579.2 510.2,589.1 513.1,602.5 516.1,605.5 519.0,602.7 522.0,595.2 524.9,588.7 527.9,583.0 530.8,578.9 533.8,575.1 536.7,573.9 539.7,572.9 542.6,571.9 545.5,571.5 548.5,571.2 551.4,569.2 554.4,567.0 557.3,566.4 560.3,566.8 563.2,566.1 566.2,563.9 569.1,561.8 572.1,559.9 575.0,558.1 577.9,555.2 580.9,555.1 583.8,556.4 586.8,554.2 589.7,545.9 592.7,541.7 595.6,536.6 598.6,530.7 601.5,525.2 604.5,525.5 607.4,527.4 610.3,531.7 613.3,535.9 616.2,539.3 619.2,542.3 622.1,544.5 625.1,541.4 628.0,540.8 631.0,536.7 633.9,530.5 636.9,528.7 639.8,528.4 642.8,530.9 645.7,533.5 648.6,537.2 651.6,541.0 654.5,545.7 657.5,551.1 660.4,559.3 663.4,566.9 666.3,573.8 669.3,575.6 672.2,575.9 675.2,574.9 678.1,570.7 681.0,563.4 684.0,559.3 686.9,556.7 689.9,554.9 692.8,552.3 695.8,548.9 698.7,547.4 701.7,546.0 704.6,544.9 707.6,547.2 710.5,550.2 713.4,554.7 716.4,559.0 719.3,561.2 722.3,563.5 725.2,568.1 728.2,574.1 731.1,583.4 734.1,590.3 737.0,597.3 740.0,600.4 742.9,601.0 745.8,599.3 748.8,598.6 751.7,598.8 754.7,598.3 757.6,595.8 760.6,593.5 763.5,592.0 766.5,590.6 769.4,588.6 772.4,585.3 775.3,577.4 778.3,572.9 781.2,571.6 784.1,572.4 787.1,574.5 790.0,576.6 793.0,578.8 795.9,581.8 798.9,585.9 801.8,589.3 804.8,590.1 807.7,590.3 810.7,588.4 813.6,586.5 816.5,584.7 819.5,583.3 822.4,581.8 825.4,580.6 828.3,579.5 831.3,578.0 834.2,575.5 837.2,572.9 840.1,568.6 843.1,564.8 846.0,562.8 848.9,560.9 851.9,563.1 854.8,565.4 857.8,568.6 860.7,574.5 863.7,582.9 866.6,591.6 869.6,595.2 872.5,596.8 875.5,593.0 878.4,589.1 881.3,585.1 884.3,582.1 887.2,580.8 890.2,581.1 893.1,583.5 896.1,585.9 899.0,586.6 902.0,584.0 904.9,582.5 907.9,583.9 910.8,582.6 913.8,582.1 916.7,582.9 919.6,578.4 922.6,571.7 925.5,566.4 928.5,561.1 931.4,557.7 934.4,554.4 937.3,551.0 940.3,550.0 943.2,549.0 946.2,548.9 949.1,552.1 952.0,555.4 955.0,553.3 957.9,545.2 960.9,538.6 963.8,532.8 966.8,532.2 969.7,530.6 972.7,533.0 975.6,538.4 978.6,547.3 981.5,557.1 984.4,566.5 987.4,567.2 990.3,566.3 993.3,564.4 996.2,561.7 999.2,558.4 1002.1,556.1 1005.1,555.9 1008.0,556.4 1011.0,551.6 1013.9,546.8 1016.8,541.8 1019.8,536.7 1022.7,535.8 1025.7,537.4 1028.6,540.5 1031.6,543.5 1034.5,546.4 1037.5,549.6 1040.4,552.9 1043.4,555.4 1046.3,557.1 1049.3,558.7 1052.2,560.0 1055.1,559.4 1058.1,558.9 1061.0,558.8 1064.0,559.2 1066.9,561.1 1069.9,563.0 1072.8,565.9 1075.8,568.9 1078.7,569.1 1081.7,567.2 1084.6,568.6 1087.5,570.1 1090.5,571.8 1093.4,572.2 1096.4,567.0 1099.3,558.5 1102.3,549.9 1105.2,544.2 1108.2,539.6 1111.1,538.1 1114.1,538.4 1117.0,538.8" fill="none" stroke="#4e8cc8" stroke-width="1.05"/>
<polyline clip-path="url(#cd)" points="0.6,571.7 3.5,572.3 6.5,573.7 9.4,574.6 12.4,574.3 15.3,573.5 18.3,572.5 21.2,570.9 24.2,568.4 27.1,566.6 30.1,566.1 33.0,569.3 35.9,568.3 38.9,566.2 41.8,567.8 44.8,567.2 47.7,565.4 50.7,562.9 53.6,560.0 56.6,557.7 59.5,557.0 62.5,554.5 65.4,551.1 68.3,548.0 71.3,545.2 74.2,542.3 77.2,540.6 80.1,538.1 83.1,536.3 86.0,532.9 89.0,528.6 91.9,525.8 94.9,524.7 97.8,526.6 100.8,530.4 103.7,535.2 106.6,547.6 109.6,559.5 112.5,567.2 115.5,571.8 118.4,575.1 121.4,579.3 124.3,584.0 127.3,584.9 130.2,583.5 133.2,581.6 136.1,579.8 139.0,579.6 142.0,581.9 144.9,579.8 147.9,575.5 150.8,570.1 153.8,569.1 156.7,571.3 159.7,575.5 162.6,577.0 165.6,577.0 168.5,578.2 171.4,580.1 174.4,580.2 177.3,579.0 180.3,578.6 183.2,579.7 186.2,582.9 189.1,581.2 192.1,576.1 195.0,570.9 198.0,566.6 200.9,567.6 203.8,571.2 206.8,571.5 209.7,570.4 212.7,568.7 215.6,567.8 218.6,569.1 221.5,571.4 224.5,572.9 227.4,574.0 230.4,574.7 233.3,575.1 236.3,576.3 239.2,578.5 242.1,581.2 245.1,582.1 248.0,581.8 251.0,581.6 253.9,581.9 256.9,582.3 259.8,582.9 262.8,582.5 265.7,581.0 268.7,579.3 271.6,577.6 274.5,575.8 277.5,573.6 280.4,571.0 283.4,568.9 286.3,568.8 289.3,569.2 292.2,569.7 295.2,570.7 298.1,572.0 301.1,573.4 304.0,574.7 306.9,575.4 309.9,573.2 312.8,569.7 315.8,565.5 318.7,562.4 321.7,560.4 324.6,560.7 327.6,562.2 330.5,564.4 333.5,567.1 336.4,570.1 339.3,572.3 342.3,573.5 345.2,574.2 348.2,573.9 351.1,572.9 354.1,571.6 357.0,571.1 360.0,571.1 362.9,572.0 365.9,573.7 368.8,575.7 371.8,577.3 374.7,578.3 377.6,570.9 380.6,553.1 383.5,538.6 386.5,526.7 389.4,518.3 392.4,513.1 395.3,510.9 398.3,510.7 401.2,512.8 404.2,518.4 407.1,523.9 410.0,529.5 413.0,535.4 415.9,541.7 418.9,548.2 421.8,554.6 424.8,560.0 427.7,564.6 430.7,569.5 433.6,574.6 436.6,579.8 439.5,584.4 442.4,588.4 445.4,590.7 448.3,592.5 451.3,593.4 454.2,591.3 457.2,590.2 460.1,589.6 463.1,589.2 466.0,588.8 469.0,588.5 471.9,587.3 474.8,585.7 477.8,584.2 480.7,582.7 483.7,581.2 486.6,578.4 489.6,572.5 492.5,569.5 495.5,570.9 498.4,572.6 501.4,573.2 504.3,574.1 507.3,576.7 510.2,582.9 513.1,592.7 516.1,599.1 519.0,600.9 522.0,598.0 524.9,593.4 527.9,588.2 530.8,583.5 533.8,579.3 536.7,576.6 539.7,574.7 542.6,573.3 545.5,572.4 548.5,571.8 551.4,570.5 554.4,568.8 557.3,567.6 560.3,567.2 563.2,566.6 566.2,565.3 569.1,563.5 572.1,561.7 575.0,559.9 577.9,557.5 580.9,556.3 583.8,556.3 586.8,555.3 589.7,550.6 592.7,546.1 595.6,541.3 598.6,536.0 601.5,530.6 604.5,528.1 607.4,527.7 610.3,529.7 613.3,532.8 616.2,536.1 619.2,539.2 622.1,541.8 625.1,541.6 628.0,541.2 631.0,539.0 633.9,534.7 636.9,531.7 639.8,530.1 642.8,530.5 645.7,532.0 648.6,534.6 651.6,537.8 654.5,541.7 657.5,546.4 660.4,552.9 663.4,559.9 666.3,566.9 669.3,571.2 672.2,573.5 675.2,574.2 678.1,572.5 681.0,567.9 684.0,563.6 686.9,560.2 689.9,557.5 692.8,554.9 695.8,551.9 698.7,549.7 701.7,547.9 704.6,546.4 707.6,546.8 710.5,548.5 713.4,551.6 716.4,555.3 719.3,558.3 722.3,560.9 725.2,564.5 728.2,569.3 731.1,576.3 734.1,583.3 737.0,590.3 740.0,595.4 742.9,598.2 745.8,598.7 748.8,598.7 751.7,598.8 754.7,598.5 757.6,597.2 760.6,595.3 763.5,593.7 766.5,592.1 769.4,590.4 772.4,587.8 775.3,582.6 778.3,577.7 781.2,574.7 784.1,573.5 787.1,574.0 790.0,575.3 793.0,577.1 795.9,579.4 798.9,582.7 801.8,586.0 804.8,588.1 807.7,589.2 810.7,588.8 813.6,587.7 816.5,586.2 819.5,584.7 822.4,583.3 825.4,582.0 828.3,580.7 831.3,579.4 834.2,577.4 837.2,575.2 840.1,571.9 843.1,568.3 846.0,565.5 848.9,563.2 851.9,563.2 854.8,564.3 857.8,566.4 860.7,570.5 863.7,576.7 866.6,584.1 869.6,589.7 872.5,593.2 875.5,593.1 878.4,591.1 881.3,588.1 884.3,585.1 887.2,583.0 890.2,582.1 893.1,582.8 896.1,584.4 899.0,585.5 902.0,584.8 904.9,583.7 907.9,583.8 910.8,583.2 913.8,582.6 916.7,582.8 919.6,580.6 922.6,576.2 925.5,571.3 928.5,566.2 931.4,562.0 934.4,558.2 937.3,554.6 940.3,552.3 943.2,550.6 946.2,549.8 949.1,551.0 952.0,553.2 955.0,553.3 957.9,549.2 960.9,543.9 963.8,538.4 966.8,535.3 969.7,533.0 972.7,533.0 975.6,535.7 978.6,541.5 981.5,549.3 984.4,557.9 987.4,562.6 990.3,564.4 993.3,564.4 996.2,563.0 999.2,560.7 1002.1,558.4 1005.1,557.2 1008.0,556.8 1011.0,554.2 1013.9,550.5 1016.8,546.1 1019.8,541.4 1022.7,538.6 1025.7,538.0 1028.6,539.3 1031.6,541.4 1034.5,543.9 1037.5,546.8 1040.4,549.8 1043.4,552.6 1046.3,554.9 1049.3,556.8 1052.2,558.4 1055.1,558.9 1058.1,558.9 1061.0,558.8 1064.0,559.0 1066.9,560.1 1069.9,561.5 1072.8,563.7 1075.8,566.3 1078.7,567.7 1081.7,567.4 1084.6,568.0 1087.5,569.1 1090.5,570.5 1093.4,571.3 1096.4,569.1 1099.3,563.8 1102.3,556.9 1105.2,550.5 1108.2,545.1 1111.1,541.6 1114.1,540.0 1117.0,539.4" fill="none" stroke="#dc9a62" stroke-width="1.05"/>
<text transform="translate(5,0) scale(0.84,1)" x="0" y="524.5" font-size="8.8" fill="#131722" stroke="#131722" stroke-width="0.25">MACD</text>
<g font-size="10.2" fill="#131722" stroke="#131722" stroke-width="0.2"><text x="1193.8" y="27.9" textLength="21" lengthAdjust="spacingAndGlyphs">45500</text><text x="1193.8" y="52.3" textLength="21" lengthAdjust="spacingAndGlyphs">45000</text><text x="1193.8" y="76.7" textLength="21" lengthAdjust="spacingAndGlyphs">44500</text><text x="1193.8" y="101.2" textLength="21" lengthAdjust="spacingAndGlyphs">44000</text><text x="1193.8" y="125.6" textLength="21" lengthAdjust="spacingAndGlyphs">43500</text><text x="1193.8" y="150.0" textLength="21" lengthAdjust="spacingAndGlyphs">43000</text><text x="1193.8" y="174.5" textLength="21" lengthAdjust="spacingAndGlyphs">42500</text><text x="1193.8" y="198.9" textLength="21" lengthAdjust="spacingAndGlyphs">42000</text><text x="1193.8" y="223.3" textLength="21" lengthAdjust="spacingAndGlyphs">41500</text><text x="1193.8" y="247.7" textLength="21" lengthAdjust="spacingAndGlyphs">41000</text><text x="1193.8" y="272.2" textLength="21" lengthAdjust="spacingAndGlyphs">40500</text><text x="1193.8" y="296.6" textLength="21" lengthAdjust="spacingAndGlyphs">40000</text><text x="1193.8" y="321.0" textLength="21" lengthAdjust="spacingAndGlyphs">39500</text><text x="1193.8" y="345.5" textLength="21" lengthAdjust="spacingAndGlyphs">39000</text><text x="1193.8" y="369.9" textLength="21" lengthAdjust="spacingAndGlyphs">38500</text><text x="1193.8" y="394.3" textLength="21" lengthAdjust="spacingAndGlyphs">38000</text><text x="1193.8" y="417.1" textLength="24.4" lengthAdjust="spacingAndGlyphs">100.00</text><text x="1193.8" y="444.4" textLength="20.4" lengthAdjust="spacingAndGlyphs">75.00</text><text x="1193.8" y="471.6" textLength="20.4" lengthAdjust="spacingAndGlyphs">50.00</text><text x="1193.8" y="498.9" textLength="20.4" lengthAdjust="spacingAndGlyphs">25.00</text><text x="1193.8" y="532.2" textLength="13.4" lengthAdjust="spacingAndGlyphs">500</text><text x="1193.8" y="555.5" textLength="13.4" lengthAdjust="spacingAndGlyphs">250</text><text x="1193.8" y="578.8" textLength="4.4" lengthAdjust="spacingAndGlyphs">0</text><text x="1193.8" y="602.1" textLength="17.4" lengthAdjust="spacingAndGlyphs">−250</text></g>
<g font-size="9.8" fill="#131722"><text transform="translate(44.5,0) scale(0.84,1)" x="0" y="620.8" text-anchor="middle">25</text><text transform="translate(106.5,0) scale(0.84,1)" x="0" y="620.8" text-anchor="middle" font-weight="bold">Jul</text><text transform="translate(168.5,0) scale(0.84,1)" x="0" y="620.8" text-anchor="middle">7</text><text transform="translate(236.5,0) scale(0.84,1)" x="0" y="620.8" text-anchor="middle">11</text><text transform="translate(307,0) scale(0.84,1)" x="0" y="620.8" text-anchor="middle">17</text><text transform="translate(377.5,0) scale(0.84,1)" x="0" y="620.8" text-anchor="middle">23</text><text transform="translate(439,0) scale(0.84,1)" x="0" y="620.8" text-anchor="middle">13:15</text><text transform="translate(501.5,0) scale(0.84,1)" x="0" y="620.8" text-anchor="middle" font-weight="bold">Aug</text><text transform="translate(571.5,0) scale(0.84,1)" x="0" y="620.8" text-anchor="middle">7</text><text transform="translate(642,0) scale(0.84,1)" x="0" y="620.8" text-anchor="middle">13</text><text transform="translate(713,0) scale(0.84,1)" x="0" y="620.8" text-anchor="middle">19</text><text transform="translate(784,0) scale(0.84,1)" x="0" y="620.8" text-anchor="middle">25</text><text transform="translate(872,0) scale(0.84,1)" x="0" y="620.8" text-anchor="middle" font-weight="bold">Sep</text><text transform="translate(939.5,0) scale(0.84,1)" x="0" y="620.8" text-anchor="middle">5</text><text transform="translate(1010.5,0) scale(0.84,1)" x="0" y="620.8" text-anchor="middle">11</text><text transform="translate(1083,0) scale(0.84,1)" x="0" y="620.8" text-anchor="middle">17</text></g>
<rect x="1081" y="607" width="77" height="18" fill="#131722"/>
<text transform="translate(1086,0) scale(0.86,1)" y="621" font-size="9.8" fill="#ffffff" stroke="#ffffff" stroke-width="0.25"><tspan x="0">2025/9/19</tspan><tspan x="53.1">05:15</tspan></text>
<g transform="translate(1207,618)" fill="none" stroke="#4a4d57" stroke-width="1.1"><path d="M0,-5.5 L4.8,-2.75 L4.8,2.75 L0,5.5 L-4.8,2.75 L-4.8,-2.75 Z"/><circle r="1.8"/></g>
<circle cx="18.6" cy="585" r="11" fill="#ffffff" stroke="#e0e3eb" stroke-width="1"/>
<g fill="#131722"><path d="M11,581 h7 v9 h-3 v-6 h-4 z"/><circle cx="20.2" cy="582.6" r="1.6"/><path d="M23,581 h4 l-4,9 h-3.6 z"/></g>
<defs><clipPath id="us"><circle cx="14.4" cy="8.3" r="3.6"/></clipPath><clipPath id="au"><circle cx="9.35" cy="13.4" r="4.3"/></clipPath></defs>
<g clip-path="url(#us)"><rect x="10" y="4" width="9" height="9" fill="#ffffff"/><rect x="10" y="4.70" width="9" height="0.8" fill="#cf3446"/><rect x="10" y="6.20" width="9" height="0.8" fill="#cf3446"/><rect x="10" y="7.70" width="9" height="0.8" fill="#cf3446"/><rect x="10" y="9.20" width="9" height="0.8" fill="#cf3446"/><rect x="10" y="10.70" width="9" height="0.8" fill="#cf3446"/><rect x="10" y="4" width="3.8" height="4" fill="#3a4a92"/></g>
<circle cx="9.35" cy="13.4" r="5.1" fill="#ffffff"/>
<g clip-path="url(#au)"><rect x="4" y="8" width="11" height="11" fill="#1d4f9e"/><rect x="5" y="9" width="4.3" height="3.3" fill="#e8a0b4"/><rect x="5" y="10.2" width="4.3" height="0.9" fill="#d03050"/><rect x="6.7" y="9" width="0.9" height="3.3" fill="#d03050"/><circle cx="7.8" cy="15.5" r="0.9" fill="#7fb0ff"/><circle cx="11.6" cy="12.5" r="0.6" fill="#9cc0ff"/><circle cx="11.2" cy="15.8" r="0.5" fill="#9cc0ff"/></g>
<text x="20.5" y="15.7" font-size="11.5" fill="#131722" stroke="#131722" stroke-width="0.25" textLength="152.5" lengthAdjust="spacingAndGlyphs">Nikkei 225 Index · 4h · Exchange</text>
<circle cx="189" cy="11" r="5" fill="#089981" fill-opacity="0.15"/><circle cx="189" cy="11" r="2.8" fill="#089981"/>
<rect x="1132.5" y="2.8" width="14.5" height="17.6" rx="3" fill="#ffffff" fill-opacity="0.9" stroke="#e6e8ee" stroke-width="0.6"/>
<rect x="1151.5" y="2.8" width="14.5" height="17.6" rx="3" fill="#ffffff" fill-opacity="0.9" stroke="#e6e8ee" stroke-width="0.6"/>
<rect x="1170.5" y="2.8" width="14.5" height="17.6" rx="3" fill="#ffffff" fill-opacity="0.9" stroke="#e6e8ee" stroke-width="0.6"/>
<g fill="none" stroke="#131722" stroke-width="1.25" stroke-linecap="round" stroke-linejoin="round"><path d="M1140.3,8.3 V15 M1137.3,12.2 L1140.3,15.1 L1143.2,12.2"/><path d="M1156.5,7.3 L1159.2,9.9 L1161.9,7.3 M1156.5,15.7 L1159.2,13.3 L1161.9,15.7"/><path d="M1174.4,10.2 V9.4 Q1174.4,7.5 1176.3,7.5 H1180.1 Q1182,7.5 1182,9.4 V10.2 M1174.4,12.8 V13.6 Q1174.4,15.5 1176.3,15.5 H1180.1 Q1182,15.5 1182,13.6 V12.8"/></g>
<rect x="1173.3" y="0" width="11.5" height="2" fill="#222" opacity="0.8"/><rect x="1186" y="0" width="2" height="8.6" fill="#131722"/>
<rect x="1189.2" y="-7" width="29.3" height="15.6" rx="2" fill="#131722"/>
<text transform="translate(1193.8,0) scale(0.84,1)" x="0" y="4.8" font-size="9.8" fill="#ffffff" stroke="#ffffff" stroke-width="0.2">45991</text>
<rect x="1189.2" y="11.5" width="29.3" height="12.1" rx="2" fill="#089981"/>
<text transform="translate(1193.8,0) scale(0.86,1)" x="0" y="20.9" font-size="8.9" fill="#e6fff8" stroke="#e6fff8" stroke-width="0.2">45642</text>
</svg>
</body></html>
